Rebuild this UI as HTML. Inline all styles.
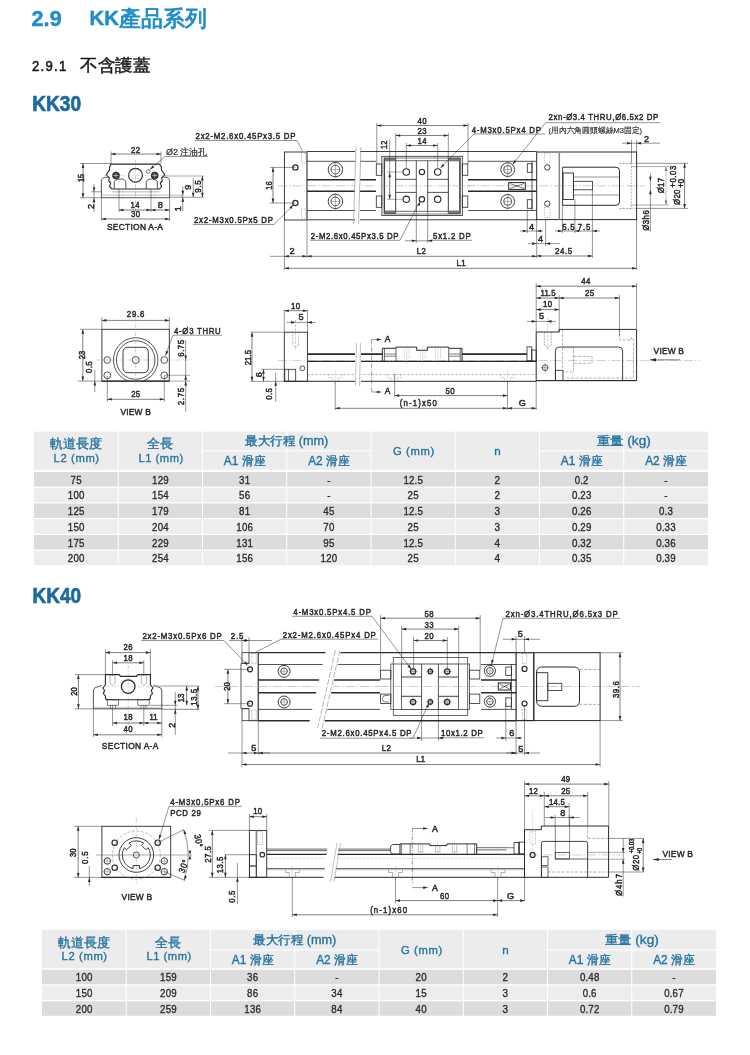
<!DOCTYPE html>
<html><head><meta charset="utf-8"><style>
html,body{margin:0;padding:0;background:#fff;}
body{width:750px;height:1055px;overflow:hidden;}
svg{display:block;will-change:transform;font-family:"Liberation Sans", sans-serif;}
</style></head><body>
<svg width="750" height="1055" viewBox="0 0 750 1055">
<text x="0" y="0" font-size="22.3" text-anchor="start" fill="#1f8dcb" font-weight="bold" stroke="#1f8dcb" stroke-width="0.5" letter-spacing="0.069" transform="translate(31.5 26) scale(0.9700 1)">2.9</text>
<text x="0" y="0" font-size="20.6" text-anchor="start" fill="#1f8dcb" font-weight="bold" stroke="#1f8dcb" stroke-width="0.5" transform="translate(89.5 25.1) scale(0.9847 1)">KK</text>
<text x="119.2" y="25.6" font-size="21.6" text-anchor="start" fill="#1f8dcb" stroke="#1f8dcb" stroke-width="0.9" textLength="87.5" lengthAdjust="spacingAndGlyphs">產品系列</text>
<text x="0" y="0" font-size="15.4" text-anchor="start" fill="#1a1a1a" stroke="#1a1a1a" stroke-width="0.6" letter-spacing="1.497" transform="translate(32 70.8) scale(0.8500 1)">2.9.1</text>
<text x="80.3" y="71" font-size="17.2" text-anchor="start" fill="#1a1a1a" stroke="#1a1a1a" stroke-width="0.45" textLength="70.2" lengthAdjust="spacingAndGlyphs">不含護蓋</text>
<text x="0" y="0" font-size="21.6" text-anchor="start" fill="#1b6aa0" font-weight="bold" stroke="#1b6aa0" stroke-width="0.7" transform="translate(32.2 111.3) scale(0.8855 1)">KK30</text>
<text x="0" y="0" font-size="21.6" text-anchor="start" fill="#1b6aa0" font-weight="bold" stroke="#1b6aa0" stroke-width="0.7" transform="translate(32.4 602.9) scale(0.8819 1)">KK40</text>
<rect x="34" y="431.7" width="674" height="38.1" fill="#ececec"/>
<rect x="34" y="472" width="674" height="14.5" fill="#dcdcdc"/>
<rect x="34" y="487.75" width="674" height="14.5" fill="#ededed"/>
<rect x="34" y="503.5" width="674" height="14.5" fill="#dcdcdc"/>
<rect x="34" y="519.25" width="674" height="14.5" fill="#ededed"/>
<rect x="34" y="535" width="674" height="14.5" fill="#dcdcdc"/>
<rect x="34" y="550.75" width="674" height="14.5" fill="#ededed"/>
<rect x="117.75" y="431.7" width="1" height="134.8" fill="#ffffff"/>
<rect x="202" y="431.7" width="1" height="134.8" fill="#ffffff"/>
<rect x="286.25" y="431.7" width="1" height="134.8" fill="#ffffff"/>
<rect x="370.5" y="431.7" width="1" height="134.8" fill="#ffffff"/>
<rect x="454.75" y="431.7" width="1" height="134.8" fill="#ffffff"/>
<rect x="539" y="431.7" width="1" height="134.8" fill="#ffffff"/>
<rect x="623.25" y="431.7" width="1" height="134.8" fill="#ffffff"/>
<rect x="202.5" y="450.3" width="168.5" height="1" fill="#ffffff"/>
<rect x="539.5" y="450.3" width="168.5" height="1" fill="#ffffff"/>
<text x="76.12" y="448.15" font-size="12.5" text-anchor="middle" fill="#24739f" stroke="#24739f" stroke-width="0.35">軌道長度</text>
<text x="0.32" y="0" font-size="11.6" text-anchor="middle" fill="#24739f" stroke="#24739f" stroke-width="0.35" letter-spacing="0.639" transform="translate(76.33 461.75) scale(0.9700 1)">L2 (mm)</text>
<text x="160.38" y="448.15" font-size="12.5" text-anchor="middle" fill="#24739f" stroke="#24739f" stroke-width="0.35">全長</text>
<text x="0.25" y="0" font-size="11.6" text-anchor="middle" fill="#24739f" stroke="#24739f" stroke-width="0.35" letter-spacing="0.502" transform="translate(160.88 461.75) scale(0.9700 1)">L1 (mm)</text>
<text x="286.75" y="445.2" font-size="12.2" text-anchor="middle" fill="#24739f" stroke="#24739f" stroke-width="0.35" textLength="83" lengthAdjust="spacingAndGlyphs">最大行程 (mm)</text>
<text x="623.75" y="445.2" font-size="12.2" text-anchor="middle" fill="#24739f" stroke="#24739f" stroke-width="0.35" textLength="54" lengthAdjust="spacingAndGlyphs">重量 (kg)</text>
<text x="244.62" y="465.3" font-size="12" text-anchor="middle" fill="#24739f" stroke="#24739f" stroke-width="0.35" textLength="41.5" lengthAdjust="spacingAndGlyphs">A1 滑座</text>
<text x="328.88" y="465.3" font-size="12" text-anchor="middle" fill="#24739f" stroke="#24739f" stroke-width="0.35" textLength="41.5" lengthAdjust="spacingAndGlyphs">A2 滑座</text>
<text x="581.62" y="465.3" font-size="12" text-anchor="middle" fill="#24739f" stroke="#24739f" stroke-width="0.35" textLength="41.5" lengthAdjust="spacingAndGlyphs">A1 滑座</text>
<text x="665.88" y="465.3" font-size="12" text-anchor="middle" fill="#24739f" stroke="#24739f" stroke-width="0.35" textLength="41.5" lengthAdjust="spacingAndGlyphs">A2 滑座</text>
<text x="0.35" y="0" font-size="11.6" text-anchor="middle" fill="#24739f" stroke="#24739f" stroke-width="0.35" letter-spacing="0.698" transform="translate(413.62 455.25) scale(0.9700 1)">G (mm)</text>
<text x="497.38" y="455.25" font-size="11.6" text-anchor="middle" fill="#24739f" stroke="#24739f" stroke-width="0.35">n</text>
<text x="0.15" y="0" font-size="11.3" text-anchor="middle" fill="#2b2b2b" stroke="#2b2b2b" stroke-width="0.35" letter-spacing="0.292" transform="translate(76.12 483.6) scale(0.8600 1)">75</text>
<text x="0.11" y="0" font-size="11.3" text-anchor="middle" fill="#2b2b2b" stroke="#2b2b2b" stroke-width="0.35" letter-spacing="0.219" transform="translate(160.38 483.6) scale(0.8600 1)">129</text>
<text x="0.15" y="0" font-size="11.3" text-anchor="middle" fill="#2b2b2b" stroke="#2b2b2b" stroke-width="0.35" letter-spacing="0.292" transform="translate(244.62 483.6) scale(0.8600 1)">31</text>
<text x="0" y="0" font-size="11.3" text-anchor="middle" fill="#2b2b2b" stroke="#2b2b2b" stroke-width="0.35" transform="translate(328.88 483.6) scale(0.8800 1)">-</text>
<text x="0.09" y="0" font-size="11.3" text-anchor="middle" fill="#2b2b2b" stroke="#2b2b2b" stroke-width="0.35" letter-spacing="0.170" transform="translate(413.12 483.6) scale(0.8600 1)">12.5</text>
<text x="0" y="0" font-size="11.3" text-anchor="middle" fill="#2b2b2b" stroke="#2b2b2b" stroke-width="0.35" transform="translate(497.38 483.6) scale(0.8800 1)">2</text>
<text x="0.09" y="0" font-size="11.3" text-anchor="middle" fill="#2b2b2b" stroke="#2b2b2b" stroke-width="0.35" letter-spacing="0.183" transform="translate(581.62 483.6) scale(0.8600 1)">0.2</text>
<text x="0" y="0" font-size="11.3" text-anchor="middle" fill="#2b2b2b" stroke="#2b2b2b" stroke-width="0.35" transform="translate(665.88 483.6) scale(0.8800 1)">-</text>
<text x="0.11" y="0" font-size="11.3" text-anchor="middle" fill="#2b2b2b" stroke="#2b2b2b" stroke-width="0.35" letter-spacing="0.219" transform="translate(76.12 499.35) scale(0.8600 1)">100</text>
<text x="0.11" y="0" font-size="11.3" text-anchor="middle" fill="#2b2b2b" stroke="#2b2b2b" stroke-width="0.35" letter-spacing="0.219" transform="translate(160.38 499.35) scale(0.8600 1)">154</text>
<text x="0.15" y="0" font-size="11.3" text-anchor="middle" fill="#2b2b2b" stroke="#2b2b2b" stroke-width="0.35" letter-spacing="0.292" transform="translate(244.62 499.35) scale(0.8600 1)">56</text>
<text x="0" y="0" font-size="11.3" text-anchor="middle" fill="#2b2b2b" stroke="#2b2b2b" stroke-width="0.35" transform="translate(328.88 499.35) scale(0.8800 1)">-</text>
<text x="0.15" y="0" font-size="11.3" text-anchor="middle" fill="#2b2b2b" stroke="#2b2b2b" stroke-width="0.35" letter-spacing="0.292" transform="translate(413.12 499.35) scale(0.8600 1)">25</text>
<text x="0" y="0" font-size="11.3" text-anchor="middle" fill="#2b2b2b" stroke="#2b2b2b" stroke-width="0.35" transform="translate(497.38 499.35) scale(0.8800 1)">2</text>
<text x="0.09" y="0" font-size="11.3" text-anchor="middle" fill="#2b2b2b" stroke="#2b2b2b" stroke-width="0.35" letter-spacing="0.170" transform="translate(581.62 499.35) scale(0.8600 1)">0.23</text>
<text x="0" y="0" font-size="11.3" text-anchor="middle" fill="#2b2b2b" stroke="#2b2b2b" stroke-width="0.35" transform="translate(665.88 499.35) scale(0.8800 1)">-</text>
<text x="0.11" y="0" font-size="11.3" text-anchor="middle" fill="#2b2b2b" stroke="#2b2b2b" stroke-width="0.35" letter-spacing="0.219" transform="translate(76.12 515.1) scale(0.8600 1)">125</text>
<text x="0.11" y="0" font-size="11.3" text-anchor="middle" fill="#2b2b2b" stroke="#2b2b2b" stroke-width="0.35" letter-spacing="0.219" transform="translate(160.38 515.1) scale(0.8600 1)">179</text>
<text x="0.15" y="0" font-size="11.3" text-anchor="middle" fill="#2b2b2b" stroke="#2b2b2b" stroke-width="0.35" letter-spacing="0.292" transform="translate(244.62 515.1) scale(0.8600 1)">81</text>
<text x="0.15" y="0" font-size="11.3" text-anchor="middle" fill="#2b2b2b" stroke="#2b2b2b" stroke-width="0.35" letter-spacing="0.292" transform="translate(328.88 515.1) scale(0.8600 1)">45</text>
<text x="0.09" y="0" font-size="11.3" text-anchor="middle" fill="#2b2b2b" stroke="#2b2b2b" stroke-width="0.35" letter-spacing="0.170" transform="translate(413.12 515.1) scale(0.8600 1)">12.5</text>
<text x="0" y="0" font-size="11.3" text-anchor="middle" fill="#2b2b2b" stroke="#2b2b2b" stroke-width="0.35" transform="translate(497.38 515.1) scale(0.8800 1)">3</text>
<text x="0.09" y="0" font-size="11.3" text-anchor="middle" fill="#2b2b2b" stroke="#2b2b2b" stroke-width="0.35" letter-spacing="0.170" transform="translate(581.62 515.1) scale(0.8600 1)">0.26</text>
<text x="0.09" y="0" font-size="11.3" text-anchor="middle" fill="#2b2b2b" stroke="#2b2b2b" stroke-width="0.35" letter-spacing="0.183" transform="translate(665.88 515.1) scale(0.8600 1)">0.3</text>
<text x="0.11" y="0" font-size="11.3" text-anchor="middle" fill="#2b2b2b" stroke="#2b2b2b" stroke-width="0.35" letter-spacing="0.219" transform="translate(76.12 530.85) scale(0.8600 1)">150</text>
<text x="0.11" y="0" font-size="11.3" text-anchor="middle" fill="#2b2b2b" stroke="#2b2b2b" stroke-width="0.35" letter-spacing="0.219" transform="translate(160.38 530.85) scale(0.8600 1)">204</text>
<text x="0.11" y="0" font-size="11.3" text-anchor="middle" fill="#2b2b2b" stroke="#2b2b2b" stroke-width="0.35" letter-spacing="0.219" transform="translate(244.62 530.85) scale(0.8600 1)">106</text>
<text x="0.15" y="0" font-size="11.3" text-anchor="middle" fill="#2b2b2b" stroke="#2b2b2b" stroke-width="0.35" letter-spacing="0.292" transform="translate(328.88 530.85) scale(0.8600 1)">70</text>
<text x="0.15" y="0" font-size="11.3" text-anchor="middle" fill="#2b2b2b" stroke="#2b2b2b" stroke-width="0.35" letter-spacing="0.292" transform="translate(413.12 530.85) scale(0.8600 1)">25</text>
<text x="0" y="0" font-size="11.3" text-anchor="middle" fill="#2b2b2b" stroke="#2b2b2b" stroke-width="0.35" transform="translate(497.38 530.85) scale(0.8800 1)">3</text>
<text x="0.09" y="0" font-size="11.3" text-anchor="middle" fill="#2b2b2b" stroke="#2b2b2b" stroke-width="0.35" letter-spacing="0.170" transform="translate(581.62 530.85) scale(0.8600 1)">0.29</text>
<text x="0.09" y="0" font-size="11.3" text-anchor="middle" fill="#2b2b2b" stroke="#2b2b2b" stroke-width="0.35" letter-spacing="0.170" transform="translate(665.88 530.85) scale(0.8600 1)">0.33</text>
<text x="0.11" y="0" font-size="11.3" text-anchor="middle" fill="#2b2b2b" stroke="#2b2b2b" stroke-width="0.35" letter-spacing="0.219" transform="translate(76.12 546.6) scale(0.8600 1)">175</text>
<text x="0.11" y="0" font-size="11.3" text-anchor="middle" fill="#2b2b2b" stroke="#2b2b2b" stroke-width="0.35" letter-spacing="0.219" transform="translate(160.38 546.6) scale(0.8600 1)">229</text>
<text x="0.11" y="0" font-size="11.3" text-anchor="middle" fill="#2b2b2b" stroke="#2b2b2b" stroke-width="0.35" letter-spacing="0.219" transform="translate(244.62 546.6) scale(0.8600 1)">131</text>
<text x="0.15" y="0" font-size="11.3" text-anchor="middle" fill="#2b2b2b" stroke="#2b2b2b" stroke-width="0.35" letter-spacing="0.292" transform="translate(328.88 546.6) scale(0.8600 1)">95</text>
<text x="0.09" y="0" font-size="11.3" text-anchor="middle" fill="#2b2b2b" stroke="#2b2b2b" stroke-width="0.35" letter-spacing="0.170" transform="translate(413.12 546.6) scale(0.8600 1)">12.5</text>
<text x="0" y="0" font-size="11.3" text-anchor="middle" fill="#2b2b2b" stroke="#2b2b2b" stroke-width="0.35" transform="translate(497.38 546.6) scale(0.8800 1)">4</text>
<text x="0.09" y="0" font-size="11.3" text-anchor="middle" fill="#2b2b2b" stroke="#2b2b2b" stroke-width="0.35" letter-spacing="0.170" transform="translate(581.62 546.6) scale(0.8600 1)">0.32</text>
<text x="0.09" y="0" font-size="11.3" text-anchor="middle" fill="#2b2b2b" stroke="#2b2b2b" stroke-width="0.35" letter-spacing="0.170" transform="translate(665.88 546.6) scale(0.8600 1)">0.36</text>
<text x="0.11" y="0" font-size="11.3" text-anchor="middle" fill="#2b2b2b" stroke="#2b2b2b" stroke-width="0.35" letter-spacing="0.219" transform="translate(76.12 562.35) scale(0.8600 1)">200</text>
<text x="0.11" y="0" font-size="11.3" text-anchor="middle" fill="#2b2b2b" stroke="#2b2b2b" stroke-width="0.35" letter-spacing="0.219" transform="translate(160.38 562.35) scale(0.8600 1)">254</text>
<text x="0.11" y="0" font-size="11.3" text-anchor="middle" fill="#2b2b2b" stroke="#2b2b2b" stroke-width="0.35" letter-spacing="0.219" transform="translate(244.62 562.35) scale(0.8600 1)">156</text>
<text x="0.11" y="0" font-size="11.3" text-anchor="middle" fill="#2b2b2b" stroke="#2b2b2b" stroke-width="0.35" letter-spacing="0.219" transform="translate(328.88 562.35) scale(0.8600 1)">120</text>
<text x="0.15" y="0" font-size="11.3" text-anchor="middle" fill="#2b2b2b" stroke="#2b2b2b" stroke-width="0.35" letter-spacing="0.292" transform="translate(413.12 562.35) scale(0.8600 1)">25</text>
<text x="0" y="0" font-size="11.3" text-anchor="middle" fill="#2b2b2b" stroke="#2b2b2b" stroke-width="0.35" transform="translate(497.38 562.35) scale(0.8800 1)">4</text>
<text x="0.09" y="0" font-size="11.3" text-anchor="middle" fill="#2b2b2b" stroke="#2b2b2b" stroke-width="0.35" letter-spacing="0.170" transform="translate(581.62 562.35) scale(0.8600 1)">0.35</text>
<text x="0.09" y="0" font-size="11.3" text-anchor="middle" fill="#2b2b2b" stroke="#2b2b2b" stroke-width="0.35" letter-spacing="0.170" transform="translate(665.88 562.35) scale(0.8600 1)">0.39</text>
<rect x="42" y="930" width="674" height="38.2" fill="#ececec"/>
<rect x="42" y="969.8" width="674" height="14.5" fill="#dcdcdc"/>
<rect x="42" y="985.55" width="674" height="14.5" fill="#ededed"/>
<rect x="42" y="1001.3" width="674" height="14.5" fill="#dcdcdc"/>
<rect x="125.75" y="930" width="1" height="87.05" fill="#ffffff"/>
<rect x="210" y="930" width="1" height="87.05" fill="#ffffff"/>
<rect x="294.25" y="930" width="1" height="87.05" fill="#ffffff"/>
<rect x="378.5" y="930" width="1" height="87.05" fill="#ffffff"/>
<rect x="462.75" y="930" width="1" height="87.05" fill="#ffffff"/>
<rect x="547" y="930" width="1" height="87.05" fill="#ffffff"/>
<rect x="631.25" y="930" width="1" height="87.05" fill="#ffffff"/>
<rect x="210.5" y="949.5" width="168.5" height="1" fill="#ffffff"/>
<rect x="547.5" y="949.5" width="168.5" height="1" fill="#ffffff"/>
<text x="84.12" y="946.5" font-size="12.5" text-anchor="middle" fill="#24739f" stroke="#24739f" stroke-width="0.35">軌道長度</text>
<text x="0.32" y="0" font-size="11.6" text-anchor="middle" fill="#24739f" stroke="#24739f" stroke-width="0.35" letter-spacing="0.639" transform="translate(84.33 960.1) scale(0.9700 1)">L2 (mm)</text>
<text x="168.38" y="946.5" font-size="12.5" text-anchor="middle" fill="#24739f" stroke="#24739f" stroke-width="0.35">全長</text>
<text x="0.25" y="0" font-size="11.6" text-anchor="middle" fill="#24739f" stroke="#24739f" stroke-width="0.35" letter-spacing="0.502" transform="translate(168.88 960.1) scale(0.9700 1)">L1 (mm)</text>
<text x="294.75" y="943.5" font-size="12.2" text-anchor="middle" fill="#24739f" stroke="#24739f" stroke-width="0.35" textLength="83" lengthAdjust="spacingAndGlyphs">最大行程 (mm)</text>
<text x="631.75" y="943.5" font-size="12.2" text-anchor="middle" fill="#24739f" stroke="#24739f" stroke-width="0.35" textLength="54" lengthAdjust="spacingAndGlyphs">重量 (kg)</text>
<text x="252.62" y="963.7" font-size="12" text-anchor="middle" fill="#24739f" stroke="#24739f" stroke-width="0.35" textLength="41.5" lengthAdjust="spacingAndGlyphs">A1 滑座</text>
<text x="336.88" y="963.7" font-size="12" text-anchor="middle" fill="#24739f" stroke="#24739f" stroke-width="0.35" textLength="41.5" lengthAdjust="spacingAndGlyphs">A2 滑座</text>
<text x="589.62" y="963.7" font-size="12" text-anchor="middle" fill="#24739f" stroke="#24739f" stroke-width="0.35" textLength="41.5" lengthAdjust="spacingAndGlyphs">A1 滑座</text>
<text x="673.88" y="963.7" font-size="12" text-anchor="middle" fill="#24739f" stroke="#24739f" stroke-width="0.35" textLength="41.5" lengthAdjust="spacingAndGlyphs">A2 滑座</text>
<text x="0.35" y="0" font-size="11.6" text-anchor="middle" fill="#24739f" stroke="#24739f" stroke-width="0.35" letter-spacing="0.698" transform="translate(421.62 953.6) scale(0.9700 1)">G (mm)</text>
<text x="505.38" y="953.6" font-size="11.6" text-anchor="middle" fill="#24739f" stroke="#24739f" stroke-width="0.35">n</text>
<text x="0.11" y="0" font-size="11.3" text-anchor="middle" fill="#2b2b2b" stroke="#2b2b2b" stroke-width="0.35" letter-spacing="0.219" transform="translate(84.12 981.4) scale(0.8600 1)">100</text>
<text x="0.11" y="0" font-size="11.3" text-anchor="middle" fill="#2b2b2b" stroke="#2b2b2b" stroke-width="0.35" letter-spacing="0.219" transform="translate(168.38 981.4) scale(0.8600 1)">159</text>
<text x="0.15" y="0" font-size="11.3" text-anchor="middle" fill="#2b2b2b" stroke="#2b2b2b" stroke-width="0.35" letter-spacing="0.292" transform="translate(252.62 981.4) scale(0.8600 1)">36</text>
<text x="0" y="0" font-size="11.3" text-anchor="middle" fill="#2b2b2b" stroke="#2b2b2b" stroke-width="0.35" transform="translate(336.88 981.4) scale(0.8800 1)">-</text>
<text x="0.15" y="0" font-size="11.3" text-anchor="middle" fill="#2b2b2b" stroke="#2b2b2b" stroke-width="0.35" letter-spacing="0.292" transform="translate(421.12 981.4) scale(0.8600 1)">20</text>
<text x="0" y="0" font-size="11.3" text-anchor="middle" fill="#2b2b2b" stroke="#2b2b2b" stroke-width="0.35" transform="translate(505.38 981.4) scale(0.8800 1)">2</text>
<text x="0.09" y="0" font-size="11.3" text-anchor="middle" fill="#2b2b2b" stroke="#2b2b2b" stroke-width="0.35" letter-spacing="0.170" transform="translate(589.62 981.4) scale(0.8600 1)">0.48</text>
<text x="0" y="0" font-size="11.3" text-anchor="middle" fill="#2b2b2b" stroke="#2b2b2b" stroke-width="0.35" transform="translate(673.88 981.4) scale(0.8800 1)">-</text>
<text x="0.11" y="0" font-size="11.3" text-anchor="middle" fill="#2b2b2b" stroke="#2b2b2b" stroke-width="0.35" letter-spacing="0.219" transform="translate(84.12 997.15) scale(0.8600 1)">150</text>
<text x="0.11" y="0" font-size="11.3" text-anchor="middle" fill="#2b2b2b" stroke="#2b2b2b" stroke-width="0.35" letter-spacing="0.219" transform="translate(168.38 997.15) scale(0.8600 1)">209</text>
<text x="0.15" y="0" font-size="11.3" text-anchor="middle" fill="#2b2b2b" stroke="#2b2b2b" stroke-width="0.35" letter-spacing="0.292" transform="translate(252.62 997.15) scale(0.8600 1)">86</text>
<text x="0.15" y="0" font-size="11.3" text-anchor="middle" fill="#2b2b2b" stroke="#2b2b2b" stroke-width="0.35" letter-spacing="0.292" transform="translate(336.88 997.15) scale(0.8600 1)">34</text>
<text x="0.15" y="0" font-size="11.3" text-anchor="middle" fill="#2b2b2b" stroke="#2b2b2b" stroke-width="0.35" letter-spacing="0.292" transform="translate(421.12 997.15) scale(0.8600 1)">15</text>
<text x="0" y="0" font-size="11.3" text-anchor="middle" fill="#2b2b2b" stroke="#2b2b2b" stroke-width="0.35" transform="translate(505.38 997.15) scale(0.8800 1)">3</text>
<text x="0.09" y="0" font-size="11.3" text-anchor="middle" fill="#2b2b2b" stroke="#2b2b2b" stroke-width="0.35" letter-spacing="0.183" transform="translate(589.62 997.15) scale(0.8600 1)">0.6</text>
<text x="0.09" y="0" font-size="11.3" text-anchor="middle" fill="#2b2b2b" stroke="#2b2b2b" stroke-width="0.35" letter-spacing="0.170" transform="translate(673.88 997.15) scale(0.8600 1)">0.67</text>
<text x="0.11" y="0" font-size="11.3" text-anchor="middle" fill="#2b2b2b" stroke="#2b2b2b" stroke-width="0.35" letter-spacing="0.219" transform="translate(84.12 1012.9) scale(0.8600 1)">200</text>
<text x="0.11" y="0" font-size="11.3" text-anchor="middle" fill="#2b2b2b" stroke="#2b2b2b" stroke-width="0.35" letter-spacing="0.219" transform="translate(168.38 1012.9) scale(0.8600 1)">259</text>
<text x="0.11" y="0" font-size="11.3" text-anchor="middle" fill="#2b2b2b" stroke="#2b2b2b" stroke-width="0.35" letter-spacing="0.219" transform="translate(252.62 1012.9) scale(0.8600 1)">136</text>
<text x="0.15" y="0" font-size="11.3" text-anchor="middle" fill="#2b2b2b" stroke="#2b2b2b" stroke-width="0.35" letter-spacing="0.292" transform="translate(336.88 1012.9) scale(0.8600 1)">84</text>
<text x="0.15" y="0" font-size="11.3" text-anchor="middle" fill="#2b2b2b" stroke="#2b2b2b" stroke-width="0.35" letter-spacing="0.292" transform="translate(421.12 1012.9) scale(0.8600 1)">40</text>
<text x="0" y="0" font-size="11.3" text-anchor="middle" fill="#2b2b2b" stroke="#2b2b2b" stroke-width="0.35" transform="translate(505.38 1012.9) scale(0.8800 1)">3</text>
<text x="0.09" y="0" font-size="11.3" text-anchor="middle" fill="#2b2b2b" stroke="#2b2b2b" stroke-width="0.35" letter-spacing="0.170" transform="translate(589.62 1012.9) scale(0.8600 1)">0.72</text>
<text x="0.09" y="0" font-size="11.3" text-anchor="middle" fill="#2b2b2b" stroke="#2b2b2b" stroke-width="0.35" letter-spacing="0.170" transform="translate(673.88 1012.9) scale(0.8600 1)">0.79</text>
<line x1="111" y1="151.5" x2="111" y2="164" stroke="#2a2a2a" stroke-width="0.5"/>
<line x1="161" y1="151.5" x2="161" y2="164" stroke="#2a2a2a" stroke-width="0.5"/>
<line x1="111" y1="154" x2="161" y2="154" stroke="#2a2a2a" stroke-width="0.6"/>
<polygon points="111,154 115.5,152.7 115.5,155.3" fill="#2a2a2a"/>
<polygon points="161,154 156.5,155.3 156.5,152.7" fill="#2a2a2a"/>
<text x="0.17" y="0" font-size="9.1" text-anchor="middle" fill="#2a2a2a" stroke="#2a2a2a" stroke-width="0.5" letter-spacing="0.344" transform="translate(135.5 153) scale(0.8600 1)">22</text>
<text x="166" y="155" font-size="9.1" text-anchor="start" fill="#2a2a2a" stroke="#2a2a2a" stroke-width="0.2" textLength="41" lengthAdjust="spacingAndGlyphs">Ø2 注油孔</text>
<line x1="165" y1="156.5" x2="208" y2="156.5" stroke="#2a2a2a" stroke-width="0.5"/>
<line x1="165" y1="156.5" x2="150" y2="169.5" stroke="#2a2a2a" stroke-width="0.5"/>
<polygon points="150,169.5 152.48,165.52 154.21,167.46" fill="#2a2a2a"/>
<line x1="80" y1="163.5" x2="111" y2="163.5" stroke="#2a2a2a" stroke-width="0.5"/>
<line x1="80" y1="197.7" x2="101.4" y2="197.7" stroke="#2a2a2a" stroke-width="0.5"/>
<line x1="83" y1="163.5" x2="83" y2="197.7" stroke="#2a2a2a" stroke-width="0.6"/>
<polygon points="83,163.5 84.3,168 81.7,168" fill="#2a2a2a"/>
<polygon points="83,197.7 81.7,193.2 84.3,193.2" fill="#2a2a2a"/>
<text x="0" y="0" font-size="9.1" text-anchor="middle" fill="#2a2a2a" stroke="#2a2a2a" stroke-width="0.5" transform="translate(84 178) rotate(-90) scale(0.7904 1)">15</text>
<line x1="91" y1="191.8" x2="101.4" y2="191.8" stroke="#2a2a2a" stroke-width="0.5"/>
<line x1="94" y1="184" x2="94" y2="212" stroke="#2a2a2a" stroke-width="0.5"/>
<polygon points="94,191.8 92.7,187.3 95.3,187.3" fill="#2a2a2a"/>
<polygon points="94,197.7 95.3,202.2 92.7,202.2" fill="#2a2a2a"/>
<text x="0" y="0" font-size="9.1" text-anchor="middle" fill="#2a2a2a" stroke="#2a2a2a" stroke-width="0.5" transform="translate(93.6 206.5) rotate(-90) scale(1.0000 1)">2</text>
<path d="M111,164.1 L159.5,164.1 L161.2,166.5 L161.5,170 L164.8,174.7 L161.6,178 L162.3,181 L160.3,183 L161.5,186.5 L159.5,189 L112,189 L109.5,186.5 L110.7,183 L108.7,181 L109.4,178 L106.2,174.7 L109.5,170 L109.8,166.5 Z" stroke="#2a2a2a" stroke-width="1.1" fill="none"/>
<path d="M101.4,197.7 L101.4,181.5 Q101.4,177.3 105.7,177.3 L107.5,177.3" stroke="#2a2a2a" stroke-width="0.8" fill="none"/>
<path d="M169.6,197.7 L169.6,181.5 Q169.6,177.3 165.3,177.3 L163.5,177.3" stroke="#2a2a2a" stroke-width="0.8" fill="none"/>
<line x1="101.4" y1="197.7" x2="169.6" y2="197.7" stroke="#2a2a2a" stroke-width="0.8"/>
<line x1="112" y1="191.8" x2="159.5" y2="191.8" stroke="#777" stroke-width="0.5"/>
<line x1="101.4" y1="195.2" x2="183" y2="195.2" stroke="#777" stroke-width="0.5"/>
<line x1="165" y1="176" x2="204" y2="176" stroke="#aaa" stroke-width="1.2"/>
<line x1="169.6" y1="197.2" x2="204" y2="197.2" stroke="#2a2a2a" stroke-width="0.5"/>
<path d="M114.2,189 L114.2,183 Q114.2,179 120,179 Q125.9,179 125.9,183 L125.9,189" stroke="#2a2a2a" stroke-width="0.8" fill="none"/>
<path d="M146.2,189 L146.2,183 Q146.2,179 151.8,179 Q157.4,179 157.4,183 L157.4,189" stroke="#2a2a2a" stroke-width="0.8" fill="none"/>
<line x1="117" y1="189" x2="117" y2="197" stroke="#999" stroke-width="0.4" stroke-dasharray="1.5,1"/>
<line x1="123" y1="189" x2="123" y2="197" stroke="#999" stroke-width="0.4" stroke-dasharray="1.5,1"/>
<line x1="149" y1="189" x2="149" y2="197" stroke="#999" stroke-width="0.4" stroke-dasharray="1.5,1"/>
<line x1="155" y1="189" x2="155" y2="197" stroke="#999" stroke-width="0.4" stroke-dasharray="1.5,1"/>
<circle cx="135.5" cy="175.3" r="6.9" stroke="#2a2a2a" stroke-width="1.2" fill="none"/>
<circle cx="116" cy="175.5" r="3.5" stroke="#2a2a2a" stroke-width="0.8" fill="#3a3a3a"/>
<circle cx="154.7" cy="175.5" r="3.5" stroke="#2a2a2a" stroke-width="0.8" fill="#3a3a3a"/>
<line x1="113.8" y1="175.5" x2="118.2" y2="175.5" stroke="#ddd" stroke-width="0.6"/>
<line x1="116" y1="173.3" x2="116" y2="177.7" stroke="#ddd" stroke-width="0.6"/>
<line x1="152.5" y1="175.5" x2="156.9" y2="175.5" stroke="#ddd" stroke-width="0.6"/>
<line x1="154.7" y1="173.3" x2="154.7" y2="177.7" stroke="#ddd" stroke-width="0.6"/>
<circle cx="148.3" cy="171.5" r="1.9" stroke="#2a2a2a" stroke-width="0.6" fill="none"/>
<line x1="135.5" y1="160" x2="135.5" y2="214" stroke="#888" stroke-width="0.4" stroke-dasharray="4,1.5,1,1.5"/>
<line x1="104" y1="175.3" x2="167" y2="175.3" stroke="#aaa" stroke-width="0.4" stroke-dasharray="4,1.5,1,1.5"/>
<line x1="119" y1="189" x2="119" y2="212" stroke="#2a2a2a" stroke-width="0.5"/>
<line x1="151" y1="189" x2="151" y2="212" stroke="#2a2a2a" stroke-width="0.5"/>
<line x1="169.6" y1="197.7" x2="169.6" y2="221" stroke="#2a2a2a" stroke-width="0.5"/>
<line x1="101.4" y1="197.7" x2="101.4" y2="221" stroke="#2a2a2a" stroke-width="0.5"/>
<line x1="119" y1="210" x2="151" y2="210" stroke="#2a2a2a" stroke-width="0.6"/>
<polygon points="119,210 123.5,208.7 123.5,211.3" fill="#2a2a2a"/>
<polygon points="151,210 146.5,211.3 146.5,208.7" fill="#2a2a2a"/>
<line x1="151" y1="210" x2="169.6" y2="210" stroke="#2a2a2a" stroke-width="0.6"/>
<polygon points="151,210 155.5,208.7 155.5,211.3" fill="#2a2a2a"/>
<polygon points="169.6,210 165.1,211.3 165.1,208.7" fill="#2a2a2a"/>
<text x="0.17" y="0" font-size="9.1" text-anchor="middle" fill="#2a2a2a" stroke="#2a2a2a" stroke-width="0.5" letter-spacing="0.344" transform="translate(135 208) scale(0.8600 1)">14</text>
<text x="160.3" y="208" font-size="9.1" text-anchor="middle" fill="#2a2a2a" stroke="#2a2a2a" stroke-width="0.5">8</text>
<line x1="101.4" y1="219" x2="169.6" y2="219" stroke="#2a2a2a" stroke-width="0.6"/>
<polygon points="101.4,219 105.9,217.7 105.9,220.3" fill="#2a2a2a"/>
<polygon points="169.6,219 165.1,220.3 165.1,217.7" fill="#2a2a2a"/>
<text x="0.17" y="0" font-size="9.1" text-anchor="middle" fill="#2a2a2a" stroke="#2a2a2a" stroke-width="0.5" letter-spacing="0.344" transform="translate(135.5 217) scale(0.8600 1)">30</text>
<text x="0" y="0" font-size="9.8" text-anchor="start" fill="#2a2a2a" stroke="#2a2a2a" stroke-width="0.5" letter-spacing="0.304" transform="translate(107 230) scale(0.8600 1)">SECTION A-A</text>
<line x1="202.4" y1="176" x2="202.4" y2="197.2" stroke="#2a2a2a" stroke-width="0.6"/>
<polygon points="202.4,176 203.7,180.5 201.1,180.5" fill="#2a2a2a"/>
<polygon points="202.4,197.2 201.1,192.7 203.7,192.7" fill="#2a2a2a"/>
<text x="0.44" y="0" font-size="9.1" text-anchor="middle" fill="#2a2a2a" stroke="#2a2a2a" stroke-width="0.5" letter-spacing="0.885" transform="translate(200.8 186.5) rotate(-90) scale(0.8600 1)">9.5</text>
<line x1="193.2" y1="178" x2="193.2" y2="197.2" stroke="#2a2a2a" stroke-width="0.5"/>
<polygon points="193.2,197.2 191.9,192.7 194.5,192.7" fill="#2a2a2a"/>
<text x="0" y="0" font-size="9.1" text-anchor="middle" fill="#2a2a2a" stroke="#2a2a2a" stroke-width="0.5" transform="translate(191.2 187.2) rotate(-90) scale(1.0000 1)">9</text>
<line x1="182.8" y1="186.4" x2="182.8" y2="211.2" stroke="#2a2a2a" stroke-width="0.5"/>
<polygon points="182.8,195.2 181.5,190.7 184.1,190.7" fill="#2a2a2a"/>
<polygon points="182.8,197.2 184.1,201.7 181.5,201.7" fill="#2a2a2a"/>
<text x="0" y="0" font-size="9.1" text-anchor="middle" fill="#2a2a2a" stroke="#2a2a2a" stroke-width="0.5" transform="translate(180.8 208.6) rotate(-90) scale(1.0000 1)">1</text>
<text x="0" y="0" font-size="9.1" text-anchor="start" fill="#2a2a2a" stroke="#2a2a2a" stroke-width="0.5" letter-spacing="0.883" transform="translate(195.6 139) scale(0.8600 1)">2x2-M2.6x0.45Px3.5 DP</text>
<line x1="195" y1="140.5" x2="297" y2="140.5" stroke="#2a2a2a" stroke-width="0.5"/>
<line x1="297" y1="140.5" x2="302.5" y2="151" stroke="#2a2a2a" stroke-width="0.5"/>
<text x="0" y="0" font-size="9.1" text-anchor="start" fill="#2a2a2a" stroke="#2a2a2a" stroke-width="0.5" letter-spacing="0.898" transform="translate(194 223) scale(0.8600 1)">2x2-M3x0.5Px5 DP</text>
<line x1="193" y1="224.5" x2="274" y2="224.5" stroke="#2a2a2a" stroke-width="0.5"/>
<line x1="274" y1="224.5" x2="293.5" y2="205" stroke="#2a2a2a" stroke-width="0.5"/>
<polygon points="293.5,205 291.24,209.1 289.4,207.26" fill="#2a2a2a"/>
<line x1="270" y1="167.4" x2="295.4" y2="167.4" stroke="#2a2a2a" stroke-width="0.5"/>
<line x1="270" y1="203" x2="295.4" y2="203" stroke="#2a2a2a" stroke-width="0.5"/>
<line x1="273" y1="167.4" x2="273" y2="203" stroke="#2a2a2a" stroke-width="0.6"/>
<polygon points="273,167.4 274.3,171.9 271.7,171.9" fill="#2a2a2a"/>
<polygon points="273,203 271.7,198.5 274.3,198.5" fill="#2a2a2a"/>
<text x="0" y="0" font-size="9.1" text-anchor="middle" fill="#2a2a2a" stroke="#2a2a2a" stroke-width="0.5" transform="translate(271.6 185.5) rotate(-90) scale(0.8398 1)">16</text>
<rect x="284.4" y="152" width="22.6" height="68" stroke="#2a2a2a" stroke-width="0.9" fill="none"/>
<rect x="301.5" y="153" width="4.5" height="10" stroke="#777" stroke-width="0.4" fill="none" stroke-dasharray="1.5,1"/>
<rect x="301.5" y="209" width="4.5" height="10" stroke="#777" stroke-width="0.4" fill="none" stroke-dasharray="1.5,1"/>
<circle cx="295.4" cy="167.4" r="2.6" stroke="#2a2a2a" stroke-width="1.2" fill="none"/>
<circle cx="295.4" cy="203" r="2.6" stroke="#2a2a2a" stroke-width="1.2" fill="none"/>
<line x1="307" y1="152" x2="307" y2="220" stroke="#888" stroke-width="1.6"/>
<line x1="307" y1="151.5" x2="536.7" y2="151.5" stroke="#2a2a2a" stroke-width="0.9"/>
<line x1="307" y1="161.3" x2="536.7" y2="161.3" stroke="#2a2a2a" stroke-width="0.8"/>
<line x1="307" y1="179.8" x2="536.7" y2="179.8" stroke="#2a2a2a" stroke-width="1.4"/>
<line x1="307" y1="191.3" x2="536.7" y2="191.3" stroke="#2a2a2a" stroke-width="1.4"/>
<line x1="307" y1="210.5" x2="536.7" y2="210.5" stroke="#2a2a2a" stroke-width="0.8"/>
<line x1="307" y1="219.8" x2="536.7" y2="219.8" stroke="#2a2a2a" stroke-width="0.9"/>
<line x1="278" y1="185.8" x2="645" y2="185.8" stroke="#999" stroke-width="0.5" stroke-dasharray="9,2,1.5,2"/>
<circle cx="335.4" cy="169.6" r="7.2" stroke="#2a2a2a" stroke-width="0.9" fill="none"/>
<circle cx="335.4" cy="169.6" r="4.4" stroke="#2a2a2a" stroke-width="0.8" fill="none"/>
<line x1="335.4" y1="161.1" x2="335.4" y2="178.1" stroke="#2a2a2a" stroke-width="0.35"/>
<line x1="331" y1="169.6" x2="339.8" y2="169.6" stroke="#2a2a2a" stroke-width="0.35"/>
<circle cx="507.7" cy="169.6" r="6.9" stroke="#2a2a2a" stroke-width="0.9" fill="none"/>
<circle cx="507.7" cy="169.6" r="4" stroke="#2a2a2a" stroke-width="0.8" fill="none"/>
<line x1="507.7" y1="161.4" x2="507.7" y2="177.8" stroke="#2a2a2a" stroke-width="0.35"/>
<line x1="503.7" y1="169.6" x2="511.7" y2="169.6" stroke="#2a2a2a" stroke-width="0.35"/>
<circle cx="335.4" cy="201.4" r="7.2" stroke="#2a2a2a" stroke-width="0.9" fill="none"/>
<circle cx="335.4" cy="201.4" r="4.4" stroke="#2a2a2a" stroke-width="0.8" fill="none"/>
<line x1="335.4" y1="192.9" x2="335.4" y2="209.9" stroke="#2a2a2a" stroke-width="0.35"/>
<line x1="331" y1="201.4" x2="339.8" y2="201.4" stroke="#2a2a2a" stroke-width="0.35"/>
<circle cx="507.7" cy="201.4" r="6.9" stroke="#2a2a2a" stroke-width="0.9" fill="none"/>
<circle cx="507.7" cy="201.4" r="4" stroke="#2a2a2a" stroke-width="0.8" fill="none"/>
<line x1="507.7" y1="193.2" x2="507.7" y2="209.6" stroke="#2a2a2a" stroke-width="0.35"/>
<line x1="503.7" y1="201.4" x2="511.7" y2="201.4" stroke="#2a2a2a" stroke-width="0.35"/>
<rect x="355" y="145" width="5" height="80" fill="#ffffff"/>
<line x1="356" y1="147" x2="353.5" y2="224" stroke="#999" stroke-width="0.7"/>
<line x1="361" y1="147" x2="358.5" y2="224" stroke="#999" stroke-width="0.7"/>
<rect x="376" y="156" width="92" height="60" fill="#ffffff"/>
<rect x="381.9" y="156.3" width="80.4" height="59.3" stroke="#2a2a2a" stroke-width="0.8" fill="none"/>
<rect x="384" y="158" width="76.3" height="56" stroke="#2a2a2a" stroke-width="0.6" fill="none"/>
<rect x="384.6" y="158.3" width="11.1" height="55" stroke="#2a2a2a" stroke-width="0.9" fill="none"/>
<rect x="384.6" y="158.3" width="11.1" height="3" fill="#777"/>
<rect x="384.6" y="210.5" width="11.1" height="2.8" fill="#777"/>
<rect x="448.3" y="158.3" width="11.4" height="55" stroke="#2a2a2a" stroke-width="0.9" fill="none"/>
<rect x="448.3" y="158.3" width="11.4" height="3" fill="#777"/>
<rect x="448.3" y="210.5" width="11.4" height="2.8" fill="#777"/>
<line x1="395.7" y1="160.7" x2="448.3" y2="160.7" stroke="#2a2a2a" stroke-width="0.7"/>
<line x1="395.7" y1="211.3" x2="448.3" y2="211.3" stroke="#2a2a2a" stroke-width="0.7"/>
<line x1="416.3" y1="160.7" x2="416.3" y2="211.3" stroke="#2a2a2a" stroke-width="0.8"/>
<line x1="427.7" y1="160.7" x2="427.7" y2="211.3" stroke="#2a2a2a" stroke-width="0.8"/>
<line x1="395.7" y1="179.3" x2="416.3" y2="179.3" stroke="#2a2a2a" stroke-width="0.8"/>
<line x1="395.7" y1="192.4" x2="416.3" y2="192.4" stroke="#2a2a2a" stroke-width="0.8"/>
<line x1="427.7" y1="179.3" x2="448.3" y2="179.3" stroke="#2a2a2a" stroke-width="0.8"/>
<line x1="427.7" y1="192.4" x2="448.3" y2="192.4" stroke="#2a2a2a" stroke-width="0.8"/>
<circle cx="406.3" cy="172" r="3.2" stroke="#2a2a2a" stroke-width="1.1" fill="none"/>
<circle cx="421.9" cy="172" r="2.7" stroke="#2a2a2a" stroke-width="1.1" fill="none"/>
<circle cx="437.7" cy="172" r="3.2" stroke="#2a2a2a" stroke-width="1.1" fill="none"/>
<circle cx="406.3" cy="199.3" r="3.2" stroke="#2a2a2a" stroke-width="1.1" fill="none"/>
<circle cx="421.9" cy="199.3" r="2.7" stroke="#2a2a2a" stroke-width="1.1" fill="none"/>
<circle cx="437.7" cy="199.3" r="3.2" stroke="#2a2a2a" stroke-width="1.1" fill="none"/>
<rect x="376.3" y="164" width="5.5" height="11.3" stroke="#2a2a2a" stroke-width="0.8" fill="none"/>
<rect x="376.3" y="196" width="5.5" height="11.3" stroke="#2a2a2a" stroke-width="0.8" fill="none"/>
<rect x="462.3" y="164" width="5.5" height="11.3" stroke="#2a2a2a" stroke-width="0.8" fill="none"/>
<rect x="462.3" y="196" width="5.5" height="11.3" stroke="#2a2a2a" stroke-width="0.8" fill="none"/>
<line x1="380" y1="185.8" x2="470" y2="185.8" stroke="#999" stroke-width="0.5" stroke-dasharray="9,2,1.5,2"/>
<line x1="387" y1="172" x2="403" y2="172" stroke="#2a2a2a" stroke-width="0.4"/>
<line x1="387" y1="199.3" x2="403" y2="199.3" stroke="#2a2a2a" stroke-width="0.4"/>
<line x1="389.7" y1="172.7" x2="389.7" y2="199.3" stroke="#2a2a2a" stroke-width="0.6"/>
<polygon points="389.7,172.7 391,177.2 388.4,177.2" fill="#2a2a2a"/>
<polygon points="389.7,199.3 388.4,194.8 391,194.8" fill="#2a2a2a"/>
<line x1="376.8" y1="123" x2="376.8" y2="164" stroke="#2a2a2a" stroke-width="0.5"/>
<line x1="468" y1="123" x2="468" y2="164" stroke="#2a2a2a" stroke-width="0.5"/>
<line x1="376.8" y1="125.5" x2="468" y2="125.5" stroke="#2a2a2a" stroke-width="0.6"/>
<polygon points="376.8,125.5 381.3,124.2 381.3,126.8" fill="#2a2a2a"/>
<polygon points="468,125.5 463.5,126.8 463.5,124.2" fill="#2a2a2a"/>
<text x="0.17" y="0" font-size="9.1" text-anchor="middle" fill="#2a2a2a" stroke="#2a2a2a" stroke-width="0.5" letter-spacing="0.344" transform="translate(422 124) scale(0.8600 1)">40</text>
<line x1="395.7" y1="133" x2="395.7" y2="158" stroke="#2a2a2a" stroke-width="0.5"/>
<line x1="448.3" y1="133" x2="448.3" y2="158" stroke="#2a2a2a" stroke-width="0.5"/>
<line x1="395.7" y1="135.5" x2="448.3" y2="135.5" stroke="#2a2a2a" stroke-width="0.6"/>
<polygon points="395.7,135.5 400.2,134.2 400.2,136.8" fill="#2a2a2a"/>
<polygon points="448.3,135.5 443.8,136.8 443.8,134.2" fill="#2a2a2a"/>
<text x="0.17" y="0" font-size="9.1" text-anchor="middle" fill="#2a2a2a" stroke="#2a2a2a" stroke-width="0.5" letter-spacing="0.344" transform="translate(422 134) scale(0.8600 1)">23</text>
<line x1="406.3" y1="143" x2="406.3" y2="168" stroke="#2a2a2a" stroke-width="0.5"/>
<line x1="437.7" y1="143" x2="437.7" y2="168" stroke="#2a2a2a" stroke-width="0.5"/>
<line x1="406.3" y1="145.5" x2="437.7" y2="145.5" stroke="#2a2a2a" stroke-width="0.6"/>
<polygon points="406.3,145.5 410.8,144.2 410.8,146.8" fill="#2a2a2a"/>
<polygon points="437.7,145.5 433.2,146.8 433.2,144.2" fill="#2a2a2a"/>
<text x="0.17" y="0" font-size="9.1" text-anchor="middle" fill="#2a2a2a" stroke="#2a2a2a" stroke-width="0.5" letter-spacing="0.344" transform="translate(422 144) scale(0.8600 1)">14</text>
<line x1="389.7" y1="139" x2="389.7" y2="172.7" stroke="#2a2a2a" stroke-width="0.5"/>
<text x="0" y="0" font-size="9.1" text-anchor="middle" fill="#2a2a2a" stroke="#2a2a2a" stroke-width="0.5" transform="translate(387.3 144.7) rotate(-90) scale(0.8398 1)">12</text>
<text x="0" y="0" font-size="9.1" text-anchor="start" fill="#2a2a2a" stroke="#2a2a2a" stroke-width="0.5" letter-spacing="0.908" transform="translate(471.7 132.9) scale(0.8600 1)">4-M3x0.5Px4 DP</text>
<line x1="473.9" y1="134" x2="545" y2="134" stroke="#2a2a2a" stroke-width="0.5"/>
<line x1="473.9" y1="134" x2="440.5" y2="168" stroke="#2a2a2a" stroke-width="0.5"/>
<polygon points="440.5,168 442.76,163.9 444.6,165.74" fill="#2a2a2a"/>
<text x="0" y="0" font-size="9.1" text-anchor="start" fill="#2a2a2a" stroke="#2a2a2a" stroke-width="0.5" letter-spacing="0.718" transform="translate(548.5 120.3) scale(0.8600 1)">2xn-Ø3.4 THRU,Ø6.5x2 DP</text>
<text x="548.5" y="133" font-size="7.6" text-anchor="start" fill="#2a2a2a" stroke="#2a2a2a" stroke-width="0.15" textLength="93.5" lengthAdjust="spacingAndGlyphs">(用內六角圓頭螺絲M3固定)</text>
<line x1="545.7" y1="122.7" x2="660" y2="122.7" stroke="#2a2a2a" stroke-width="0.5"/>
<line x1="545.7" y1="122.7" x2="512.5" y2="164.5" stroke="#2a2a2a" stroke-width="0.5"/>
<polygon points="512.5,164.5 514.3,160.17 516.33,161.8" fill="#2a2a2a"/>
<rect x="508.7" y="182.6" width="16.6" height="6.8" stroke="#2a2a2a" stroke-width="1" fill="none"/>
<line x1="510" y1="183.5" x2="524" y2="188.5" stroke="#2a2a2a" stroke-width="0.6"/>
<line x1="510" y1="188.5" x2="524" y2="183.5" stroke="#2a2a2a" stroke-width="0.6"/>
<rect x="527.3" y="163.7" width="4.7" height="8.6" stroke="#2a2a2a" stroke-width="0.8" fill="none"/>
<rect x="527.3" y="199.7" width="4.7" height="8.6" stroke="#2a2a2a" stroke-width="0.8" fill="none"/>
<line x1="532" y1="161.3" x2="532" y2="210.3" stroke="#2a2a2a" stroke-width="0.8"/>
<rect x="536.7" y="152" width="99.9" height="67.6" stroke="#2a2a2a" stroke-width="1" fill="none"/>
<line x1="559.3" y1="152" x2="559.3" y2="219.6" stroke="#888" stroke-width="1.5"/>
<rect x="544.5" y="153" width="5.5" height="10" stroke="#777" stroke-width="0.4" fill="none" stroke-dasharray="1.5,1"/>
<rect x="544.5" y="207.5" width="5.5" height="10" stroke="#777" stroke-width="0.4" fill="none" stroke-dasharray="1.5,1"/>
<circle cx="547.3" cy="167.4" r="2.7" stroke="#2a2a2a" stroke-width="0.9" fill="none"/>
<circle cx="547.3" cy="203.7" r="2.7" stroke="#2a2a2a" stroke-width="0.9" fill="none"/>
<path d="M562.6,167.2 L616,167.2 Q619.5,167.2 619.5,170.7 L619.5,201.8 Q619.5,205.3 616,205.3 L562.6,205.3" stroke="#2a2a2a" stroke-width="1" fill="none"/>
<line x1="562.6" y1="167.2" x2="562.6" y2="205.3" stroke="#2a2a2a" stroke-width="0.9"/>
<rect x="563" y="173" width="10.5" height="26.5" stroke="#2a2a2a" stroke-width="0.9" fill="none"/>
<rect x="573.5" y="181.3" width="19" height="8.5" stroke="#2a2a2a" stroke-width="0.8" fill="none"/>
<line x1="573.5" y1="177" x2="619.5" y2="177" stroke="#2a2a2a" stroke-width="0.5"/>
<line x1="573.5" y1="195" x2="619.5" y2="195" stroke="#2a2a2a" stroke-width="0.5"/>
<rect x="631.3" y="163.3" width="5.3" height="45.1" stroke="#777" stroke-width="0.5" fill="none" stroke-dasharray="2,1.2"/>
<line x1="619.5" y1="163.3" x2="631.3" y2="163.3" stroke="#2a2a2a" stroke-width="0.5" stroke-dasharray="2,1.2"/>
<line x1="619.5" y1="208.4" x2="631.3" y2="208.4" stroke="#2a2a2a" stroke-width="0.5" stroke-dasharray="2,1.2"/>
<line x1="631.5" y1="140" x2="631.5" y2="163" stroke="#2a2a2a" stroke-width="0.5"/>
<line x1="636.6" y1="140" x2="636.6" y2="152" stroke="#2a2a2a" stroke-width="0.5"/>
<line x1="622" y1="143.2" x2="660" y2="143.2" stroke="#2a2a2a" stroke-width="0.5"/>
<polygon points="631.5,143.2 627,144.5 627,141.9" fill="#2a2a2a"/>
<polygon points="636.6,143.2 641.1,141.9 641.1,144.5" fill="#2a2a2a"/>
<text x="646.5" y="141.5" font-size="9.1" text-anchor="middle" fill="#2a2a2a" stroke="#2a2a2a" stroke-width="0.5">2</text>
<line x1="636.6" y1="163.3" x2="688" y2="163.3" stroke="#2a2a2a" stroke-width="0.5"/>
<line x1="636.6" y1="208.4" x2="688" y2="208.4" stroke="#2a2a2a" stroke-width="0.5"/>
<line x1="684.6" y1="163.3" x2="684.6" y2="208.4" stroke="#2a2a2a" stroke-width="0.6"/>
<polygon points="684.6,163.3 685.9,167.8 683.3,167.8" fill="#2a2a2a"/>
<polygon points="684.6,208.4 683.3,203.9 685.9,203.9" fill="#2a2a2a"/>
<line x1="631" y1="166.6" x2="669" y2="166.6" stroke="#2a2a2a" stroke-width="0.4"/>
<line x1="631" y1="205" x2="669" y2="205" stroke="#2a2a2a" stroke-width="0.4"/>
<line x1="666" y1="166.6" x2="666" y2="205" stroke="#999" stroke-width="0.6"/>
<polygon points="666,166.6 667.3,171.1 664.7,171.1" fill="#777"/>
<polygon points="666,205 664.7,200.5 667.3,200.5" fill="#777"/>
<text x="0.15" y="0" font-size="9.1" text-anchor="middle" fill="#2a2a2a" stroke="#2a2a2a" stroke-width="0.5" letter-spacing="0.296" transform="translate(664 185.6) rotate(-90) scale(0.8600 1)">Ø17</text>
<text x="0.15" y="0" font-size="9.1" text-anchor="middle" fill="#2a2a2a" stroke="#2a2a2a" stroke-width="0.5" letter-spacing="0.296" transform="translate(680 197.3) rotate(-90) scale(0.8600 1)">Ø20</text>
<text x="0.32" y="0" font-size="9.1" text-anchor="middle" fill="#2a2a2a" stroke="#2a2a2a" stroke-width="0.5" letter-spacing="0.639" transform="translate(676 176.7) rotate(-90) scale(0.8600 1)">+0.03</text>
<text x="0" y="0" font-size="9.1" text-anchor="middle" fill="#2a2a2a" stroke="#2a2a2a" stroke-width="0.5" transform="translate(683.7 183.3) rotate(-90) scale(0.8385 1)">+0</text>
<line x1="650.4" y1="173.5" x2="650.4" y2="231.5" stroke="#2a2a2a" stroke-width="0.5"/>
<polygon points="650.4,181.3 649.1,176.8 651.7,176.8" fill="#2a2a2a"/>
<polygon points="650.4,189.8 651.7,194.3 649.1,194.3" fill="#2a2a2a"/>
<text x="0.26" y="0" font-size="9.1" text-anchor="middle" fill="#2a2a2a" stroke="#2a2a2a" stroke-width="0.5" letter-spacing="0.526" transform="translate(649.4 220.5) rotate(-90) scale(0.8600 1)">Ø3h6</text>
<line x1="284.4" y1="220" x2="284.4" y2="270" stroke="#2a2a2a" stroke-width="0.5"/>
<line x1="636.6" y1="219.6" x2="636.6" y2="270" stroke="#2a2a2a" stroke-width="0.5"/>
<line x1="307" y1="220" x2="307" y2="258" stroke="#2a2a2a" stroke-width="0.5"/>
<text x="0" y="0" font-size="9.1" text-anchor="start" fill="#2a2a2a" stroke="#2a2a2a" stroke-width="0.5" letter-spacing="0.739" transform="translate(310.7 238.5) scale(0.8600 1)">2-M2.6x0.45Px3.5 DP</text>
<line x1="310" y1="240.3" x2="400" y2="240.3" stroke="#2a2a2a" stroke-width="0.5"/>
<line x1="400" y1="240.3" x2="420" y2="201" stroke="#2a2a2a" stroke-width="0.5"/>
<polygon points="420.5,201.5 419.65,206.11 417.32,204.94" fill="#2a2a2a"/>
<line x1="416.3" y1="211" x2="416.3" y2="243" stroke="#2a2a2a" stroke-width="0.5"/>
<line x1="427.7" y1="211" x2="427.7" y2="243" stroke="#2a2a2a" stroke-width="0.5"/>
<line x1="405" y1="240.8" x2="432" y2="240.8" stroke="#2a2a2a" stroke-width="0.5"/>
<polygon points="416.3,240.8 411.8,242.1 411.8,239.5" fill="#2a2a2a"/>
<polygon points="427.7,240.8 432.2,239.5 432.2,242.1" fill="#2a2a2a"/>
<text x="0" y="0" font-size="9.1" text-anchor="start" fill="#2a2a2a" stroke="#2a2a2a" stroke-width="0.5" letter-spacing="0.915" transform="translate(433 238.5) scale(0.8600 1)">5x1.2 DP</text>
<line x1="432" y1="240.3" x2="472" y2="240.3" stroke="#2a2a2a" stroke-width="0.5"/>
<line x1="284.4" y1="256.3" x2="307" y2="256.3" stroke="#2a2a2a" stroke-width="0.6"/>
<polygon points="284.4,256.3 288.9,255 288.9,257.6" fill="#2a2a2a"/>
<polygon points="307,256.3 302.5,257.6 302.5,255" fill="#2a2a2a"/>
<text x="292" y="253.7" font-size="9.1" text-anchor="middle" fill="#2a2a2a" stroke="#2a2a2a" stroke-width="0.5">2</text>
<line x1="270" y1="256.3" x2="284.4" y2="256.3" stroke="#2a2a2a" stroke-width="0.5"/>
<line x1="307" y1="256.3" x2="536.7" y2="256.3" stroke="#2a2a2a" stroke-width="0.6"/>
<polygon points="307,256.3 311.5,255 311.5,257.6" fill="#2a2a2a"/>
<polygon points="536.7,256.3 532.2,257.6 532.2,255" fill="#2a2a2a"/>
<text x="0.17" y="0" font-size="9.1" text-anchor="middle" fill="#2a2a2a" stroke="#2a2a2a" stroke-width="0.5" letter-spacing="0.344" transform="translate(421.3 253.7) scale(0.8600 1)">L2</text>
<line x1="284.4" y1="268.3" x2="636.6" y2="268.3" stroke="#2a2a2a" stroke-width="0.6"/>
<polygon points="284.4,268.3 288.9,267 288.9,269.6" fill="#2a2a2a"/>
<polygon points="636.6,268.3 632.1,269.6 632.1,267" fill="#2a2a2a"/>
<text x="0.17" y="0" font-size="9.1" text-anchor="middle" fill="#2a2a2a" stroke="#2a2a2a" stroke-width="0.5" letter-spacing="0.344" transform="translate(461 266.2) scale(0.8600 1)">L1</text>
<line x1="527.3" y1="210" x2="527.3" y2="233" stroke="#2a2a2a" stroke-width="0.5"/>
<line x1="536.7" y1="219.6" x2="536.7" y2="258" stroke="#2a2a2a" stroke-width="0.5"/>
<line x1="545.6" y1="219" x2="545.6" y2="246" stroke="#2a2a2a" stroke-width="0.5"/>
<line x1="520" y1="231" x2="543" y2="231" stroke="#2a2a2a" stroke-width="0.5"/>
<polygon points="527.3,231 522.8,232.3 522.8,229.7" fill="#2a2a2a"/>
<polygon points="536.7,231 541.2,229.7 541.2,232.3" fill="#2a2a2a"/>
<text x="531.5" y="229.7" font-size="9.1" text-anchor="middle" fill="#2a2a2a" stroke="#2a2a2a" stroke-width="0.5">4</text>
<line x1="528" y1="243.6" x2="560" y2="243.6" stroke="#2a2a2a" stroke-width="0.5"/>
<polygon points="536.7,243.6 532.2,244.9 532.2,242.3" fill="#2a2a2a"/>
<polygon points="545.6,243.6 550.1,242.3 550.1,244.9" fill="#2a2a2a"/>
<text x="540.6" y="242.4" font-size="9.1" text-anchor="middle" fill="#2a2a2a" stroke="#2a2a2a" stroke-width="0.5">4</text>
<line x1="562.4" y1="205" x2="562.4" y2="233" stroke="#2a2a2a" stroke-width="0.5"/>
<line x1="574.9" y1="199" x2="574.9" y2="233" stroke="#2a2a2a" stroke-width="0.5"/>
<line x1="592.4" y1="189" x2="592.4" y2="258" stroke="#2a2a2a" stroke-width="0.5"/>
<line x1="555" y1="231" x2="600" y2="231" stroke="#2a2a2a" stroke-width="0.5"/>
<polygon points="562.4,231 557.9,232.3 557.9,229.7" fill="#2a2a2a"/>
<polygon points="574.9,231 579.4,229.7 579.4,232.3" fill="#2a2a2a"/>
<polygon points="592.4,231 596.9,229.7 596.9,232.3" fill="#2a2a2a"/>
<text x="0.47" y="0" font-size="9.1" text-anchor="middle" fill="#2a2a2a" stroke="#2a2a2a" stroke-width="0.5" letter-spacing="0.943" transform="translate(568.4 229.7) scale(0.8600 1)">5.5</text>
<text x="0.47" y="0" font-size="9.1" text-anchor="middle" fill="#2a2a2a" stroke="#2a2a2a" stroke-width="0.5" letter-spacing="0.943" transform="translate(584 229.7) scale(0.8600 1)">7.5</text>
<line x1="536.7" y1="256" x2="592.4" y2="256" stroke="#2a2a2a" stroke-width="0.6"/>
<polygon points="536.7,256 541.2,254.7 541.2,257.3" fill="#2a2a2a"/>
<polygon points="592.4,256 587.9,257.3 587.9,254.7" fill="#2a2a2a"/>
<text x="0.34" y="0" font-size="9.1" text-anchor="middle" fill="#2a2a2a" stroke="#2a2a2a" stroke-width="0.5" letter-spacing="0.686" transform="translate(563.6 254.4) scale(0.8600 1)">24.5</text>
<line x1="101.9" y1="317" x2="101.9" y2="329.3" stroke="#2a2a2a" stroke-width="0.5"/>
<line x1="169.3" y1="317" x2="169.3" y2="329.3" stroke="#2a2a2a" stroke-width="0.5"/>
<line x1="101.9" y1="320.4" x2="169.3" y2="320.4" stroke="#2a2a2a" stroke-width="0.6"/>
<polygon points="101.9,320.4 106.4,319.1 106.4,321.7" fill="#2a2a2a"/>
<polygon points="169.3,320.4 164.8,321.7 164.8,319.1" fill="#2a2a2a"/>
<text x="0.44" y="0" font-size="9.1" text-anchor="middle" fill="#2a2a2a" stroke="#2a2a2a" stroke-width="0.5" letter-spacing="0.880" transform="translate(135.6 317.3) scale(0.8600 1)">29.6</text>
<rect x="101.9" y="329.3" width="67.4" height="51.8" stroke="#2a2a2a" stroke-width="0.9" fill="none"/>
<line x1="101.9" y1="381.1" x2="169.3" y2="381.1" stroke="#2a2a2a" stroke-width="1.4"/>
<path d="M128.2,381 A22.3,22.3 0 1 1 143.2,381" stroke="#2a2a2a" stroke-width="0.8" fill="none"/>
<circle cx="135.7" cy="360" r="19.3" stroke="#2a2a2a" stroke-width="0.8" fill="none"/>
<path d="M128,347.3 L143.3,347.3 Q148.3,347.3 148.3,352.3 L148.3,367.7 Q148.3,372.7 143.3,372.7 L128,372.7 Q123,372.7 123,367.7 L123,352.3 Q123,347.3 128,347.3 Z" stroke="#2a2a2a" stroke-width="0.9" fill="none"/>
<circle cx="135.7" cy="360" r="3.5" stroke="#2a2a2a" stroke-width="0.8" fill="none"/>
<circle cx="107.3" cy="360" r="3.4" stroke="#2a2a2a" stroke-width="0.8" fill="none"/>
<circle cx="107.3" cy="375.3" r="3.4" stroke="#2a2a2a" stroke-width="0.8" fill="none"/>
<circle cx="164.3" cy="360" r="3.4" stroke="#2a2a2a" stroke-width="0.8" fill="none"/>
<circle cx="164.3" cy="375.3" r="3.4" stroke="#2a2a2a" stroke-width="0.8" fill="none"/>
<line x1="135.7" y1="316" x2="135.7" y2="386" stroke="#888" stroke-width="0.4" stroke-dasharray="4,1.5,1,1.5"/>
<line x1="96" y1="360" x2="190" y2="360" stroke="#888" stroke-width="0.4" stroke-dasharray="4,1.5,1,1.5"/>
<line x1="164" y1="375.3" x2="190" y2="375.3" stroke="#2a2a2a" stroke-width="0.4"/>
<text x="0" y="0" font-size="9.1" text-anchor="start" fill="#2a2a2a" stroke="#2a2a2a" stroke-width="0.5" letter-spacing="0.819" transform="translate(174 333.6) scale(0.8600 1)">4-Ø3 THRU</text>
<line x1="173" y1="335.2" x2="222" y2="335.2" stroke="#2a2a2a" stroke-width="0.5"/>
<line x1="173" y1="335.2" x2="165.5" y2="355.5" stroke="#2a2a2a" stroke-width="0.5"/>
<polygon points="165.5,355.5 165.96,350.84 168.38,351.8" fill="#2a2a2a"/>
<line x1="80" y1="329.3" x2="101.9" y2="329.3" stroke="#2a2a2a" stroke-width="0.5"/>
<line x1="78" y1="381.1" x2="101.9" y2="381.1" stroke="#2a2a2a" stroke-width="0.5"/>
<line x1="82.8" y1="329.3" x2="82.8" y2="381.1" stroke="#2a2a2a" stroke-width="0.6"/>
<polygon points="82.8,329.3 84.1,333.8 81.5,333.8" fill="#2a2a2a"/>
<polygon points="82.8,381.1 81.5,376.6 84.1,376.6" fill="#2a2a2a"/>
<text x="0" y="0" font-size="9.1" text-anchor="middle" fill="#2a2a2a" stroke="#2a2a2a" stroke-width="0.5" transform="translate(84.6 355) rotate(-90) scale(0.8398 1)">23</text>
<line x1="94.8" y1="370" x2="94.8" y2="392" stroke="#2a2a2a" stroke-width="0.5"/>
<polygon points="94.8,381.1 96.1,385.6 93.5,385.6" fill="#2a2a2a"/>
<text x="0.18" y="0" font-size="9.1" text-anchor="middle" fill="#2a2a2a" stroke="#2a2a2a" stroke-width="0.5" letter-spacing="0.362" transform="translate(92 367.2) rotate(-90) scale(0.8600 1)">0.5</text>
<line x1="107.3" y1="376" x2="107.3" y2="402" stroke="#2a2a2a" stroke-width="0.5"/>
<line x1="164.3" y1="376" x2="164.3" y2="402" stroke="#2a2a2a" stroke-width="0.5"/>
<line x1="107.3" y1="399.3" x2="164.3" y2="399.3" stroke="#2a2a2a" stroke-width="0.6"/>
<polygon points="107.3,399.3 111.8,398 111.8,400.6" fill="#2a2a2a"/>
<polygon points="164.3,399.3 159.8,400.6 159.8,398" fill="#2a2a2a"/>
<text x="0.17" y="0" font-size="9.1" text-anchor="middle" fill="#2a2a2a" stroke="#2a2a2a" stroke-width="0.5" letter-spacing="0.344" transform="translate(135.7 397.3) scale(0.8600 1)">25</text>
<line x1="185.7" y1="340" x2="185.7" y2="412" stroke="#2a2a2a" stroke-width="0.5"/>
<polygon points="185.7,360 184.4,355.5 187,355.5" fill="#2a2a2a"/>
<polygon points="185.7,375.3 187,379.8 184.4,379.8" fill="#2a2a2a"/>
<polygon points="185.7,381.1 187,385.6 184.4,385.6" fill="#2a2a2a"/>
<line x1="169.3" y1="381.1" x2="190" y2="381.1" stroke="#2a2a2a" stroke-width="0.4"/>
<text x="0.28" y="0" font-size="9.1" text-anchor="middle" fill="#2a2a2a" stroke="#2a2a2a" stroke-width="0.5" letter-spacing="0.570" transform="translate(183.7 348.3) rotate(-90) scale(0.8600 1)">6.75</text>
<text x="0.4" y="0" font-size="9.1" text-anchor="middle" fill="#2a2a2a" stroke="#2a2a2a" stroke-width="0.5" letter-spacing="0.802" transform="translate(183.7 396.6) rotate(-90) scale(0.8600 1)">2.75</text>
<text x="0.12" y="0" font-size="9.8" text-anchor="middle" fill="#2a2a2a" stroke="#2a2a2a" stroke-width="0.5" letter-spacing="0.232" transform="translate(135.6 414.7) scale(0.8600 1)">VIEW B</text>
<rect x="284.3" y="332.2" width="23.1" height="49.1" stroke="#2a2a2a" stroke-width="0.9" fill="none"/>
<line x1="284.3" y1="310" x2="284.3" y2="332" stroke="#2a2a2a" stroke-width="0.5"/>
<line x1="307.4" y1="310" x2="307.4" y2="332" stroke="#2a2a2a" stroke-width="0.5"/>
<line x1="284.3" y1="310.7" x2="307.4" y2="310.7" stroke="#2a2a2a" stroke-width="0.6"/>
<polygon points="284.3,310.7 288.8,309.4 288.8,312" fill="#2a2a2a"/>
<polygon points="307.4,310.7 302.9,312 302.9,309.4" fill="#2a2a2a"/>
<text x="0.17" y="0" font-size="9.1" text-anchor="middle" fill="#2a2a2a" stroke="#2a2a2a" stroke-width="0.5" letter-spacing="0.344" transform="translate(295.5 308.5) scale(0.8600 1)">10</text>
<line x1="286.4" y1="322.4" x2="315.7" y2="322.4" stroke="#2a2a2a" stroke-width="0.5"/>
<polygon points="295.5,322.4 291,323.7 291,321.1" fill="#2a2a2a"/>
<polygon points="307.4,322.4 311.9,321.1 311.9,323.7" fill="#2a2a2a"/>
<text x="301" y="320.3" font-size="9.1" text-anchor="middle" fill="#2a2a2a" stroke="#2a2a2a" stroke-width="0.5">5</text>
<line x1="295.5" y1="320" x2="295.5" y2="350" stroke="#888" stroke-width="0.4" stroke-dasharray="3,1.2"/>
<path d="M292.8,332.5 L292.8,345 L295.5,347.5 L298.7,345 L298.7,332.5" stroke="#666" stroke-width="0.5" fill="none" stroke-dasharray="1.5,1"/>
<line x1="277.9" y1="360.6" x2="700" y2="360.6" stroke="#888" stroke-width="0.4" stroke-dasharray="9,2,1.5,2"/>
<circle cx="302.4" cy="368.3" r="2.4" stroke="#2a2a2a" stroke-width="0.8" fill="none"/>
<rect x="284.8" y="369.3" width="10.9" height="12" stroke="#2a2a2a" stroke-width="0.8" fill="none"/>
<line x1="288.5" y1="369.3" x2="288.5" y2="381.3" stroke="#2a2a2a" stroke-width="0.7"/>
<line x1="250.7" y1="332.2" x2="284.3" y2="332.2" stroke="#2a2a2a" stroke-width="0.5"/>
<line x1="252" y1="332.2" x2="252" y2="381.3" stroke="#2a2a2a" stroke-width="0.6"/>
<polygon points="252,332.2 253.3,336.7 250.7,336.7" fill="#2a2a2a"/>
<polygon points="252,381.3 250.7,376.8 253.3,376.8" fill="#2a2a2a"/>
<text x="0.05" y="0" font-size="9.1" text-anchor="middle" fill="#2a2a2a" stroke="#2a2a2a" stroke-width="0.5" letter-spacing="0.105" transform="translate(250.7 357.6) rotate(-90) scale(0.8600 1)">21.5</text>
<line x1="261" y1="369.3" x2="284.3" y2="369.3" stroke="#2a2a2a" stroke-width="0.5"/>
<line x1="263.5" y1="369.3" x2="263.5" y2="381.3" stroke="#2a2a2a" stroke-width="0.6"/>
<polygon points="263.5,369.3 264.8,373.8 262.2,373.8" fill="#2a2a2a"/>
<polygon points="263.5,381.3 262.2,376.8 264.8,376.8" fill="#2a2a2a"/>
<text x="0" y="0" font-size="9.1" text-anchor="middle" fill="#2a2a2a" stroke="#2a2a2a" stroke-width="0.5" transform="translate(262.4 374.7) rotate(-90) scale(1.0000 1)">6</text>
<line x1="275.7" y1="372.5" x2="275.7" y2="402" stroke="#2a2a2a" stroke-width="0.5"/>
<polygon points="275.7,381.3 277,385.8 274.4,385.8" fill="#2a2a2a"/>
<text x="0.18" y="0" font-size="9.1" text-anchor="middle" fill="#2a2a2a" stroke="#2a2a2a" stroke-width="0.5" letter-spacing="0.362" transform="translate(272 393.9) rotate(-90) scale(0.8600 1)">0.5</text>
<line x1="250.7" y1="381.3" x2="284.3" y2="381.3" stroke="#2a2a2a" stroke-width="0.5"/>
<line x1="307.4" y1="354.1" x2="382.3" y2="354.1" stroke="#2a2a2a" stroke-width="1.6"/>
<line x1="462" y1="354.1" x2="527" y2="354.1" stroke="#2a2a2a" stroke-width="1.6"/>
<line x1="307.4" y1="361.3" x2="536.2" y2="361.3" stroke="#2a2a2a" stroke-width="1.3"/>
<line x1="307.4" y1="374.5" x2="536.2" y2="374.5" stroke="#777" stroke-width="0.5" stroke-dasharray="2.5,1.5"/>
<line x1="284.3" y1="381.3" x2="536.2" y2="381.3" stroke="#2a2a2a" stroke-width="1"/>
<path d="M328.2,374.5 L328.2,377.5 L332.2,377.5 L332.2,381 M342.2,374.5 L342.2,377.5 L338.2,377.5 L338.2,381" stroke="#777" stroke-width="0.4" fill="none" stroke-dasharray="1.5,1"/>
<line x1="335.2" y1="370" x2="335.2" y2="384" stroke="#999" stroke-width="0.3"/>
<path d="M387,374.5 L387,377.5 L391,377.5 L391,381 M401,374.5 L401,377.5 L397,377.5 L397,381" stroke="#777" stroke-width="0.4" fill="none" stroke-dasharray="1.5,1"/>
<line x1="394" y1="370" x2="394" y2="384" stroke="#999" stroke-width="0.3"/>
<path d="M500.4,374.5 L500.4,377.5 L504.4,377.5 L504.4,381 M514.4,374.5 L514.4,377.5 L510.4,377.5 L510.4,381" stroke="#777" stroke-width="0.4" fill="none" stroke-dasharray="1.5,1"/>
<line x1="507.4" y1="370" x2="507.4" y2="384" stroke="#999" stroke-width="0.3"/>
<rect x="355" y="340" width="6" height="46" fill="#ffffff"/>
<line x1="356.5" y1="343" x2="355.5" y2="386" stroke="#999" stroke-width="0.6"/>
<line x1="360.5" y1="343" x2="359.5" y2="386" stroke="#999" stroke-width="0.6"/>
<path d="M382.3,361.3 L382.3,348.3 L396,348.3 L396,347.1 L416.7,347.1 L416.7,350.3 L427.3,350.3 L427.3,347.1 L448.7,347.1 L448.7,348.3 L462,348.3 L462,361.3" stroke="#2a2a2a" stroke-width="1" fill="none"/>
<line x1="384.4" y1="348.3" x2="384.4" y2="361.3" stroke="#2a2a2a" stroke-width="0.7"/>
<line x1="460.2" y1="348.3" x2="460.2" y2="361.3" stroke="#2a2a2a" stroke-width="0.7"/>
<line x1="384.4" y1="354" x2="396" y2="354" stroke="#2a2a2a" stroke-width="0.6"/>
<line x1="448.7" y1="354" x2="460.2" y2="354" stroke="#2a2a2a" stroke-width="0.6"/>
<line x1="384.4" y1="356.2" x2="396" y2="356.2" stroke="#2a2a2a" stroke-width="0.6"/>
<line x1="448.7" y1="356.2" x2="460.2" y2="356.2" stroke="#2a2a2a" stroke-width="0.6"/>
<line x1="396" y1="348.3" x2="396" y2="361.3" stroke="#2a2a2a" stroke-width="0.7"/>
<line x1="448.7" y1="348.3" x2="448.7" y2="361.3" stroke="#2a2a2a" stroke-width="0.7"/>
<path d="M404.2,349 L404.2,358 M409.2,349 L409.2,358" stroke="#777" stroke-width="0.4" fill="none" stroke-dasharray="1.5,1"/>
<line x1="406.7" y1="345" x2="406.7" y2="364" stroke="#999" stroke-width="0.3"/>
<path d="M420.2,349 L420.2,358 M425.2,349 L425.2,358" stroke="#777" stroke-width="0.4" fill="none" stroke-dasharray="1.5,1"/>
<line x1="422.7" y1="345" x2="422.7" y2="364" stroke="#999" stroke-width="0.3"/>
<path d="M435.5,349 L435.5,358 M440.5,349 L440.5,358" stroke="#777" stroke-width="0.4" fill="none" stroke-dasharray="1.5,1"/>
<line x1="438" y1="345" x2="438" y2="364" stroke="#999" stroke-width="0.3"/>
<rect x="527" y="346.9" width="4.8" height="13.8" stroke="#2a2a2a" stroke-width="0.8" fill="none"/>
<rect x="531.8" y="350" width="4.4" height="11" stroke="#2a2a2a" stroke-width="0.8" fill="none"/>
<line x1="371.6" y1="339.6" x2="371.6" y2="392" stroke="#2a2a2a" stroke-width="0.5" stroke-dasharray="4,1.5,1,1.5"/>
<line x1="371.6" y1="339.6" x2="381.3" y2="339.6" stroke="#2a2a2a" stroke-width="0.5"/>
<polygon points="381.3,339.6 376.8,340.9 376.8,338.3" fill="#2a2a2a"/>
<line x1="371.6" y1="392" x2="381.3" y2="392" stroke="#2a2a2a" stroke-width="0.5"/>
<polygon points="381.3,392 376.8,393.3 376.8,390.7" fill="#2a2a2a"/>
<text x="0" y="0" font-size="9.1" text-anchor="start" fill="#2a2a2a" stroke="#2a2a2a" stroke-width="0.5" transform="translate(384.7 341.7) scale(0.9226 1)">A</text>
<text x="0" y="0" font-size="9.1" text-anchor="start" fill="#2a2a2a" stroke="#2a2a2a" stroke-width="0.5" transform="translate(384.7 394) scale(0.9226 1)">A</text>
<line x1="394.7" y1="374" x2="394.7" y2="397" stroke="#2a2a2a" stroke-width="0.5"/>
<line x1="507.4" y1="381" x2="507.4" y2="410" stroke="#2a2a2a" stroke-width="0.5"/>
<line x1="335.2" y1="381" x2="335.2" y2="410" stroke="#2a2a2a" stroke-width="0.5"/>
<line x1="394.7" y1="395.6" x2="507.4" y2="395.6" stroke="#2a2a2a" stroke-width="0.6"/>
<polygon points="394.7,395.6 399.2,394.3 399.2,396.9" fill="#2a2a2a"/>
<polygon points="507.4,395.6 502.9,396.9 502.9,394.3" fill="#2a2a2a"/>
<text x="0.17" y="0" font-size="9.1" text-anchor="middle" fill="#2a2a2a" stroke="#2a2a2a" stroke-width="0.5" letter-spacing="0.344" transform="translate(450 393.7) scale(0.8600 1)">50</text>
<line x1="335.2" y1="408.3" x2="507.4" y2="408.3" stroke="#2a2a2a" stroke-width="0.6"/>
<polygon points="335.2,408.3 339.7,407 339.7,409.6" fill="#2a2a2a"/>
<polygon points="507.4,408.3 502.9,409.6 502.9,407" fill="#2a2a2a"/>
<text x="0.65" y="0" font-size="9.1" text-anchor="middle" fill="#2a2a2a" stroke="#2a2a2a" stroke-width="0.5" letter-spacing="1.306" transform="translate(418.3 406) scale(0.8600 1)">(n-1)x50</text>
<line x1="536.2" y1="381" x2="536.2" y2="410" stroke="#2a2a2a" stroke-width="0.5"/>
<line x1="507.4" y1="408.3" x2="536.2" y2="408.3" stroke="#2a2a2a" stroke-width="0.6"/>
<polygon points="507.4,408.3 511.9,407 511.9,409.6" fill="#2a2a2a"/>
<polygon points="536.2,408.3 531.7,409.6 531.7,407" fill="#2a2a2a"/>
<text x="522.4" y="406" font-size="9.1" text-anchor="middle" fill="#2a2a2a" stroke="#2a2a2a" stroke-width="0.5">G</text>
<path d="M536.2,381.1 L536.2,332 L559.2,332 L559.2,329.4 L636.6,329.4 L636.6,380.6 L536.2,380.6" stroke="#2a2a2a" stroke-width="1" fill="none"/>
<line x1="536.2" y1="380.6" x2="636.6" y2="380.6" stroke="#2a2a2a" stroke-width="1"/>
<path d="M555.4,380.6 L555.4,351 Q555.4,347 559.4,347 L618.6,347 Q622.6,347 622.6,351 L622.6,380.6" stroke="#2a2a2a" stroke-width="0.9" fill="none"/>
<rect x="555.5" y="370.3" width="7.5" height="10.3" stroke="#2a2a2a" stroke-width="0.8" fill="none"/>
<line x1="562.5" y1="329.4" x2="562.5" y2="380.6" stroke="#666" stroke-width="0.5" stroke-dasharray="3,1.5"/>
<polyline points="562.5,347.7 573.5,347.7 573.5,372 562.5,372" stroke="#666" stroke-width="0.5" fill="none" stroke-dasharray="3,1.5"/>
<polyline points="573.5,356.4 592,356.4 592,363.3 573.5,363.3" stroke="#666" stroke-width="0.5" fill="none" stroke-dasharray="3,1.5"/>
<polyline points="619.6,329.4 619.6,340 631,340 631,338 633.5,338 633.5,378 566.8,378" stroke="#666" stroke-width="0.5" fill="none" stroke-dasharray="3,1.5"/>
<circle cx="545.1" cy="367.7" r="2.8" stroke="#2a2a2a" stroke-width="0.8" fill="none"/>
<line x1="541" y1="367.7" x2="549" y2="367.7" stroke="#2a2a2a" stroke-width="0.4"/>
<line x1="545.1" y1="363.5" x2="545.1" y2="372" stroke="#2a2a2a" stroke-width="0.4"/>
<path d="M544.3,332 L544.3,345 L547.7,348 L551.2,345 L551.2,332" stroke="#555" stroke-width="0.5" fill="none" stroke-dasharray="2,1"/>
<line x1="547.7" y1="318" x2="547.7" y2="350" stroke="#888" stroke-width="0.4" stroke-dasharray="3,1.2"/>
<line x1="536.2" y1="283" x2="536.2" y2="332" stroke="#2a2a2a" stroke-width="0.5"/>
<line x1="636.6" y1="283" x2="636.6" y2="329" stroke="#2a2a2a" stroke-width="0.5"/>
<line x1="536.2" y1="286.2" x2="636.6" y2="286.2" stroke="#2a2a2a" stroke-width="0.6"/>
<polygon points="536.2,286.2 540.7,284.9 540.7,287.5" fill="#2a2a2a"/>
<polygon points="636.6,286.2 632.1,287.5 632.1,284.9" fill="#2a2a2a"/>
<text x="0.17" y="0" font-size="9.1" text-anchor="middle" fill="#2a2a2a" stroke="#2a2a2a" stroke-width="0.5" letter-spacing="0.344" transform="translate(585.8 284) scale(0.8600 1)">44</text>
<line x1="559.2" y1="295" x2="559.2" y2="332" stroke="#2a2a2a" stroke-width="0.5"/>
<line x1="619.4" y1="295" x2="619.4" y2="336" stroke="#2a2a2a" stroke-width="0.5"/>
<line x1="536.2" y1="298" x2="559.2" y2="298" stroke="#2a2a2a" stroke-width="0.6"/>
<polygon points="536.2,298 540.7,296.7 540.7,299.3" fill="#2a2a2a"/>
<polygon points="559.2,298 554.7,299.3 554.7,296.7" fill="#2a2a2a"/>
<line x1="559.2" y1="298" x2="619.4" y2="298" stroke="#2a2a2a" stroke-width="0.6"/>
<polygon points="559.2,298 563.7,296.7 563.7,299.3" fill="#2a2a2a"/>
<polygon points="619.4,298 614.9,299.3 614.9,296.7" fill="#2a2a2a"/>
<text x="0.07" y="0" font-size="9.1" text-anchor="middle" fill="#2a2a2a" stroke="#2a2a2a" stroke-width="0.5" letter-spacing="0.136" transform="translate(548 295.8) scale(0.8600 1)">11.5</text>
<text x="0.17" y="0" font-size="9.1" text-anchor="middle" fill="#2a2a2a" stroke="#2a2a2a" stroke-width="0.5" letter-spacing="0.344" transform="translate(589.6 295.8) scale(0.8600 1)">25</text>
<line x1="536.2" y1="309.6" x2="559.2" y2="309.6" stroke="#2a2a2a" stroke-width="0.6"/>
<polygon points="536.2,309.6 540.7,308.3 540.7,310.9" fill="#2a2a2a"/>
<polygon points="559.2,309.6 554.7,310.9 554.7,308.3" fill="#2a2a2a"/>
<text x="0.17" y="0" font-size="9.1" text-anchor="middle" fill="#2a2a2a" stroke="#2a2a2a" stroke-width="0.5" letter-spacing="0.344" transform="translate(547.5 307) scale(0.8600 1)">10</text>
<line x1="527" y1="321.4" x2="556" y2="321.4" stroke="#2a2a2a" stroke-width="0.5"/>
<polygon points="536.2,321.4 531.7,322.7 531.7,320.1" fill="#2a2a2a"/>
<polygon points="547,321.4 551.5,320.1 551.5,322.7" fill="#2a2a2a"/>
<text x="541.6" y="318.8" font-size="9.1" text-anchor="middle" fill="#2a2a2a" stroke="#2a2a2a" stroke-width="0.5">5</text>
<text x="0" y="0" font-size="9.8" text-anchor="start" fill="#2a2a2a" stroke="#2a2a2a" stroke-width="0.5" letter-spacing="0.209" transform="translate(653.6 354.4) scale(0.8600 1)">VIEW B</text>
<line x1="650" y1="359.8" x2="680" y2="359.8" stroke="#2a2a2a" stroke-width="0.6"/>
<polygon points="650,359.8 656,358.2 656,361.4" fill="#2a2a2a"/>
<line x1="105.4" y1="649" x2="105.4" y2="674.6" stroke="#2a2a2a" stroke-width="0.5"/>
<line x1="150.4" y1="649" x2="150.4" y2="674.6" stroke="#2a2a2a" stroke-width="0.5"/>
<line x1="105.4" y1="652.6" x2="150.4" y2="652.6" stroke="#2a2a2a" stroke-width="0.6"/>
<polygon points="105.4,652.6 109.9,651.3 109.9,653.9" fill="#2a2a2a"/>
<polygon points="150.4,652.6 145.9,653.9 145.9,651.3" fill="#2a2a2a"/>
<text x="0.17" y="0" font-size="9.1" text-anchor="middle" fill="#2a2a2a" stroke="#2a2a2a" stroke-width="0.5" letter-spacing="0.344" transform="translate(128 650) scale(0.8600 1)">26</text>
<line x1="112.6" y1="660" x2="112.6" y2="676" stroke="#2a2a2a" stroke-width="0.5"/>
<line x1="143.8" y1="660" x2="143.8" y2="676" stroke="#2a2a2a" stroke-width="0.5"/>
<line x1="112.6" y1="662.8" x2="143.8" y2="662.8" stroke="#2a2a2a" stroke-width="0.6"/>
<polygon points="112.6,662.8 117.1,661.5 117.1,664.1" fill="#2a2a2a"/>
<polygon points="143.8,662.8 139.3,664.1 139.3,661.5" fill="#2a2a2a"/>
<text x="0.17" y="0" font-size="9.1" text-anchor="middle" fill="#2a2a2a" stroke="#2a2a2a" stroke-width="0.5" letter-spacing="0.344" transform="translate(128 661.2) scale(0.8600 1)">18</text>
<line x1="75" y1="674.6" x2="105.4" y2="674.6" stroke="#2a2a2a" stroke-width="0.5"/>
<line x1="75" y1="708.8" x2="93.4" y2="708.8" stroke="#2a2a2a" stroke-width="0.5"/>
<line x1="78.4" y1="674.6" x2="78.4" y2="708.8" stroke="#2a2a2a" stroke-width="0.6"/>
<polygon points="78.4,674.6 79.7,679.1 77.1,679.1" fill="#2a2a2a"/>
<polygon points="78.4,708.8 77.1,704.3 79.7,704.3" fill="#2a2a2a"/>
<text x="0" y="0" font-size="9.1" text-anchor="middle" fill="#2a2a2a" stroke="#2a2a2a" stroke-width="0.5" transform="translate(76.5 691.6) rotate(-90) scale(0.8398 1)">20</text>
<path d="M105.4,674.6 L119.2,674.6 L120.5,676.4 L136.5,676.4 L137.8,674.6 L150.4,674.6 L150.4,684.8 L153,688 L151.2,690.5 L152.5,693.5 L150.4,696 L150.4,697.5 Q150.4,699.8 148,699.8 L107.8,699.8 Q105.4,699.8 105.4,697.5 L105.4,696 L103.3,693.5 L104.6,690.5 L102.8,688 L105.4,684.8 Z" stroke="#2a2a2a" stroke-width="1.1" fill="none"/>
<path d="M93.4,708.8 L93.4,691 Q93.4,687.5 97,687 L101.8,685.4" stroke="#2a2a2a" stroke-width="0.8" fill="none"/>
<path d="M161.8,708.8 L161.8,691 Q161.8,687.5 158.2,687 L153.4,685.4" stroke="#2a2a2a" stroke-width="0.8" fill="none"/>
<line x1="93.4" y1="708.8" x2="161.8" y2="708.8" stroke="#2a2a2a" stroke-width="0.9"/>
<line x1="93.4" y1="707.3" x2="161.8" y2="707.3" stroke="#888" stroke-width="0.4"/>
<rect x="107.2" y="699.8" width="11.4" height="5.4" stroke="#2a2a2a" stroke-width="0.6" fill="none"/>
<rect x="137.8" y="699.8" width="11.4" height="5.4" stroke="#2a2a2a" stroke-width="0.6" fill="none"/>
<line x1="110.5" y1="705.2" x2="110.5" y2="708.8" stroke="#2a2a2a" stroke-width="0.5"/>
<line x1="115.5" y1="705.2" x2="115.5" y2="708.8" stroke="#2a2a2a" stroke-width="0.5"/>
<line x1="141" y1="705.2" x2="141" y2="708.8" stroke="#2a2a2a" stroke-width="0.5"/>
<line x1="146" y1="705.2" x2="146" y2="708.8" stroke="#2a2a2a" stroke-width="0.5"/>
<circle cx="128.2" cy="686.6" r="6.8" stroke="#2a2a2a" stroke-width="1.3" fill="none"/>
<path d="M110.1,675 L110.1,683 L112.6,685.5 L115.1,683 L115.1,675" stroke="#666" stroke-width="0.5" fill="none"/>
<path d="M141.3,675 L141.3,683 L143.8,685.5 L146.3,683 L146.3,675" stroke="#666" stroke-width="0.5" fill="none"/>
<line x1="128.2" y1="665" x2="128.2" y2="725" stroke="#888" stroke-width="0.4" stroke-dasharray="4,1.5,1,1.5"/>
<line x1="98" y1="686.6" x2="158" y2="686.6" stroke="#aaa" stroke-width="0.4" stroke-dasharray="4,1.5,1,1.5"/>
<line x1="153" y1="686" x2="199.3" y2="686" stroke="#999" stroke-width="1"/>
<line x1="161.8" y1="709.3" x2="199.3" y2="709.3" stroke="#2a2a2a" stroke-width="0.6"/>
<line x1="150.4" y1="705.3" x2="177.3" y2="705.3" stroke="#2a2a2a" stroke-width="0.5"/>
<line x1="198" y1="686" x2="198" y2="709.3" stroke="#2a2a2a" stroke-width="0.6"/>
<polygon points="198,686 199.3,690.5 196.7,690.5" fill="#2a2a2a"/>
<polygon points="198,709.3 196.7,704.8 199.3,704.8" fill="#2a2a2a"/>
<text x="0.28" y="0" font-size="9.1" text-anchor="middle" fill="#2a2a2a" stroke="#2a2a2a" stroke-width="0.5" letter-spacing="0.570" transform="translate(196.5 697.3) rotate(-90) scale(0.8600 1)">13.5</text>
<line x1="186.7" y1="686" x2="186.7" y2="705.3" stroke="#2a2a2a" stroke-width="0.6"/>
<polygon points="186.7,686 188,690.5 185.4,690.5" fill="#2a2a2a"/>
<polygon points="186.7,705.3 185.4,700.8 188,700.8" fill="#2a2a2a"/>
<text x="0" y="0" font-size="9.1" text-anchor="middle" fill="#2a2a2a" stroke="#2a2a2a" stroke-width="0.5" transform="translate(183.7 698) rotate(-90) scale(0.8497 1)">13</text>
<line x1="175.3" y1="692" x2="175.3" y2="735" stroke="#2a2a2a" stroke-width="0.5"/>
<polygon points="175.3,705.3 174,700.8 176.6,700.8" fill="#2a2a2a"/>
<polygon points="175.3,709.3 176.6,713.8 174,713.8" fill="#2a2a2a"/>
<text x="0" y="0" font-size="9.1" text-anchor="middle" fill="#2a2a2a" stroke="#2a2a2a" stroke-width="0.5" transform="translate(174.5 725.2) rotate(-90) scale(1.0000 1)">2</text>
<line x1="112.6" y1="705" x2="112.6" y2="726" stroke="#2a2a2a" stroke-width="0.5"/>
<line x1="143.8" y1="705" x2="143.8" y2="726" stroke="#2a2a2a" stroke-width="0.5"/>
<line x1="161.8" y1="708.8" x2="161.8" y2="737" stroke="#2a2a2a" stroke-width="0.5"/>
<line x1="93.4" y1="708.8" x2="93.4" y2="737" stroke="#2a2a2a" stroke-width="0.5"/>
<line x1="112.6" y1="723" x2="143.8" y2="723" stroke="#2a2a2a" stroke-width="0.6"/>
<polygon points="112.6,723 117.1,721.7 117.1,724.3" fill="#2a2a2a"/>
<polygon points="143.8,723 139.3,724.3 139.3,721.7" fill="#2a2a2a"/>
<line x1="143.8" y1="723" x2="161.8" y2="723" stroke="#2a2a2a" stroke-width="0.6"/>
<polygon points="143.8,723 148.3,721.7 148.3,724.3" fill="#2a2a2a"/>
<polygon points="161.8,723 157.3,724.3 157.3,721.7" fill="#2a2a2a"/>
<text x="0.17" y="0" font-size="9.1" text-anchor="middle" fill="#2a2a2a" stroke="#2a2a2a" stroke-width="0.5" letter-spacing="0.344" transform="translate(128 720.4) scale(0.8600 1)">18</text>
<text x="0" y="0" font-size="9.1" text-anchor="middle" fill="#2a2a2a" stroke="#2a2a2a" stroke-width="0.5" transform="translate(153.6 720.4) scale(0.8470 1)">11</text>
<line x1="93.4" y1="734.8" x2="161.8" y2="734.8" stroke="#2a2a2a" stroke-width="0.6"/>
<polygon points="93.4,734.8 97.9,733.5 97.9,736.1" fill="#2a2a2a"/>
<polygon points="161.8,734.8 157.3,736.1 157.3,733.5" fill="#2a2a2a"/>
<text x="0.17" y="0" font-size="9.1" text-anchor="middle" fill="#2a2a2a" stroke="#2a2a2a" stroke-width="0.5" letter-spacing="0.344" transform="translate(128 732.2) scale(0.8600 1)">40</text>
<text x="0" y="0" font-size="9.8" text-anchor="start" fill="#2a2a2a" stroke="#2a2a2a" stroke-width="0.5" letter-spacing="0.374" transform="translate(101.8 748.6) scale(0.8600 1)">SECTION A-A</text>
<text x="0" y="0" font-size="9.1" text-anchor="start" fill="#2a2a2a" stroke="#2a2a2a" stroke-width="0.5" letter-spacing="0.929" transform="translate(142.4 638.8) scale(0.8600 1)">2x2-M3x0.5Px6 DP</text>
<line x1="141" y1="640.5" x2="224" y2="640.5" stroke="#2a2a2a" stroke-width="0.5"/>
<line x1="224" y1="640.5" x2="246.5" y2="664" stroke="#2a2a2a" stroke-width="0.5"/>
<polygon points="247.5,666 244.07,662.81 246.3,661.47" fill="#2a2a2a"/>
<text x="0" y="0" font-size="9.1" text-anchor="start" fill="#2a2a2a" stroke="#2a2a2a" stroke-width="0.5" letter-spacing="1.001" transform="translate(230.8 638.7) scale(0.8600 1)">2.5</text>
<line x1="229" y1="640.5" x2="272" y2="640.5" stroke="#2a2a2a" stroke-width="0.5"/>
<polygon points="242,640.5 246.5,639.2 246.5,641.8" fill="#2a2a2a"/>
<polygon points="249,640.5 244.5,641.8 244.5,639.2" fill="#2a2a2a"/>
<line x1="242" y1="637" x2="242" y2="652.7" stroke="#2a2a2a" stroke-width="0.5"/>
<line x1="249" y1="637" x2="249" y2="652.7" stroke="#2a2a2a" stroke-width="0.5"/>
<text x="0" y="0" font-size="9.1" text-anchor="start" fill="#2a2a2a" stroke="#2a2a2a" stroke-width="0.5" letter-spacing="0.969" transform="translate(282.7 637.5) scale(0.8600 1)">2x2-M2.6x0.45Px4 DP</text>
<line x1="281" y1="639.2" x2="378" y2="639.2" stroke="#2a2a2a" stroke-width="0.5"/>
<line x1="281" y1="639.2" x2="256" y2="652" stroke="#2a2a2a" stroke-width="0.5"/>
<text x="0" y="0" font-size="9.1" text-anchor="start" fill="#2a2a2a" stroke="#2a2a2a" stroke-width="0.5" letter-spacing="0.932" transform="translate(293.3 614.7) scale(0.8600 1)">4-M3x0.5Px4.5 DP</text>
<line x1="292" y1="616.3" x2="372" y2="616.3" stroke="#2a2a2a" stroke-width="0.5"/>
<line x1="224" y1="669.3" x2="250" y2="669.3" stroke="#2a2a2a" stroke-width="0.5"/>
<line x1="224" y1="703.7" x2="250" y2="703.7" stroke="#2a2a2a" stroke-width="0.5"/>
<line x1="227.9" y1="669.3" x2="227.9" y2="703.7" stroke="#2a2a2a" stroke-width="0.6"/>
<polygon points="227.9,669.3 229.2,673.8 226.6,673.8" fill="#2a2a2a"/>
<polygon points="227.9,703.7 226.6,699.2 229.2,699.2" fill="#2a2a2a"/>
<text x="0" y="0" font-size="9.1" text-anchor="middle" fill="#2a2a2a" stroke="#2a2a2a" stroke-width="0.5" transform="translate(229.5 686.5) rotate(-90) scale(0.8398 1)">20</text>
<rect x="242" y="652.7" width="7" height="10.6" stroke="#2a2a2a" stroke-width="0.8" fill="none"/>
<rect x="242" y="708.7" width="7" height="12" stroke="#2a2a2a" stroke-width="0.8" fill="none"/>
<line x1="241" y1="663.3" x2="241" y2="708.7" stroke="#2a2a2a" stroke-width="0.8"/>
<line x1="241" y1="663.3" x2="249" y2="663.3" stroke="#2a2a2a" stroke-width="0.6"/>
<line x1="241" y1="708.7" x2="249" y2="708.7" stroke="#2a2a2a" stroke-width="0.6"/>
<line x1="249" y1="652.7" x2="258.3" y2="652.7" stroke="#2a2a2a" stroke-width="1"/>
<line x1="249" y1="720.7" x2="258.3" y2="720.7" stroke="#2a2a2a" stroke-width="1"/>
<line x1="258.3" y1="652.7" x2="258.3" y2="720.7" stroke="#555" stroke-width="1.5"/>
<circle cx="250" cy="669.3" r="2.5" stroke="#2a2a2a" stroke-width="1.2" fill="none"/>
<circle cx="250" cy="703.7" r="2.5" stroke="#2a2a2a" stroke-width="1.2" fill="none"/>
<rect x="251.7" y="653.5" width="4.6" height="10" stroke="#666" stroke-width="0.4" fill="none" stroke-dasharray="1.5,1"/>
<rect x="251.7" y="710" width="4.6" height="10" stroke="#666" stroke-width="0.4" fill="none" stroke-dasharray="1.5,1"/>
<line x1="258.3" y1="652.6" x2="516.1" y2="652.6" stroke="#2a2a2a" stroke-width="1.4"/>
<line x1="258.3" y1="664.5" x2="516.1" y2="664.5" stroke="#2a2a2a" stroke-width="0.8"/>
<line x1="258.3" y1="680" x2="516.1" y2="680" stroke="#2a2a2a" stroke-width="1.4"/>
<line x1="258.3" y1="692.7" x2="516.1" y2="692.7" stroke="#2a2a2a" stroke-width="1.4"/>
<line x1="258.3" y1="709.4" x2="516.1" y2="709.4" stroke="#2a2a2a" stroke-width="0.8"/>
<line x1="258.3" y1="720.8" x2="516.1" y2="720.8" stroke="#2a2a2a" stroke-width="1.4"/>
<line x1="215" y1="686.5" x2="640" y2="686.5" stroke="#999" stroke-width="0.5" stroke-dasharray="9,2,1.5,2"/>
<circle cx="284.1" cy="671.3" r="6" stroke="#2a2a2a" stroke-width="0.9" fill="none"/>
<circle cx="284.1" cy="671.3" r="3.3" stroke="#2a2a2a" stroke-width="0.8" fill="none"/>
<line x1="280" y1="671.3" x2="288" y2="671.3" stroke="#2a2a2a" stroke-width="0.3"/>
<line x1="284.1" y1="667.3" x2="284.1" y2="675.3" stroke="#2a2a2a" stroke-width="0.3"/>
<circle cx="489.9" cy="670.8" r="5.6" stroke="#2a2a2a" stroke-width="0.9" fill="none"/>
<circle cx="489.9" cy="670.8" r="3.3" stroke="#2a2a2a" stroke-width="0.8" fill="none"/>
<line x1="486" y1="670.8" x2="494" y2="670.8" stroke="#2a2a2a" stroke-width="0.3"/>
<line x1="489.9" y1="666.8" x2="489.9" y2="674.8" stroke="#2a2a2a" stroke-width="0.3"/>
<circle cx="284.1" cy="702" r="6" stroke="#2a2a2a" stroke-width="0.9" fill="none"/>
<circle cx="284.1" cy="702" r="3.3" stroke="#2a2a2a" stroke-width="0.8" fill="none"/>
<line x1="280" y1="702" x2="288" y2="702" stroke="#2a2a2a" stroke-width="0.3"/>
<line x1="284.1" y1="698" x2="284.1" y2="706" stroke="#2a2a2a" stroke-width="0.3"/>
<circle cx="489.9" cy="701.5" r="5.6" stroke="#2a2a2a" stroke-width="0.9" fill="none"/>
<circle cx="489.9" cy="701.5" r="3.3" stroke="#2a2a2a" stroke-width="0.8" fill="none"/>
<line x1="486" y1="701.5" x2="494" y2="701.5" stroke="#2a2a2a" stroke-width="0.3"/>
<line x1="489.9" y1="697.5" x2="489.9" y2="705.5" stroke="#2a2a2a" stroke-width="0.3"/>
<path d="M326,650 L341,650 L323,728 L308,728 Z" stroke="#2a2a2a" stroke-width="0" fill="#ffffff"/>
<line x1="335.5" y1="650" x2="317.7" y2="728" stroke="#888" stroke-width="0.6" stroke-dasharray="6,1.5"/>
<line x1="340" y1="650" x2="322.2" y2="728" stroke="#888" stroke-width="0.6" stroke-dasharray="6,1.5"/>
<rect x="380" y="656" width="101" height="61" fill="#ffffff"/>
<rect x="393.3" y="657.5" width="74.4" height="57.9" stroke="#444" stroke-width="0.8" fill="none"/>
<rect x="390.8" y="664" width="10.6" height="45.5" stroke="#444" stroke-width="0.8" fill="none"/>
<rect x="458.6" y="664" width="11" height="45.5" stroke="#444" stroke-width="0.8" fill="none"/>
<line x1="401.4" y1="664" x2="458.6" y2="664" stroke="#2a2a2a" stroke-width="0.8"/>
<line x1="401.4" y1="709.5" x2="458.6" y2="709.5" stroke="#2a2a2a" stroke-width="0.8"/>
<line x1="421.6" y1="664" x2="421.6" y2="709.5" stroke="#2a2a2a" stroke-width="0.8"/>
<line x1="438.4" y1="664" x2="438.4" y2="709.5" stroke="#2a2a2a" stroke-width="0.8"/>
<line x1="401.4" y1="677" x2="421.6" y2="677" stroke="#2a2a2a" stroke-width="0.9"/>
<line x1="401.4" y1="696.3" x2="421.6" y2="696.3" stroke="#2a2a2a" stroke-width="0.9"/>
<line x1="438.4" y1="677" x2="458.6" y2="677" stroke="#2a2a2a" stroke-width="0.9"/>
<line x1="438.4" y1="696.3" x2="458.6" y2="696.3" stroke="#2a2a2a" stroke-width="0.9"/>
<circle cx="413.1" cy="671.4" r="2.6" stroke="#2a2a2a" stroke-width="1.3" fill="none"/>
<line x1="408.7" y1="671.4" x2="417.5" y2="671.4" stroke="#2a2a2a" stroke-width="0.4"/>
<line x1="413.1" y1="667" x2="413.1" y2="675.8" stroke="#2a2a2a" stroke-width="0.4"/>
<circle cx="430.3" cy="671.4" r="2.2" stroke="#2a2a2a" stroke-width="1.3" fill="none"/>
<line x1="426.3" y1="671.4" x2="434.3" y2="671.4" stroke="#2a2a2a" stroke-width="0.4"/>
<line x1="430.3" y1="667.4" x2="430.3" y2="675.4" stroke="#2a2a2a" stroke-width="0.4"/>
<circle cx="447.2" cy="671.4" r="2.6" stroke="#2a2a2a" stroke-width="1.3" fill="none"/>
<line x1="442.8" y1="671.4" x2="451.6" y2="671.4" stroke="#2a2a2a" stroke-width="0.4"/>
<line x1="447.2" y1="667" x2="447.2" y2="675.8" stroke="#2a2a2a" stroke-width="0.4"/>
<circle cx="413.1" cy="701.9" r="2.6" stroke="#2a2a2a" stroke-width="1.3" fill="none"/>
<line x1="408.7" y1="701.9" x2="417.5" y2="701.9" stroke="#2a2a2a" stroke-width="0.4"/>
<line x1="413.1" y1="697.5" x2="413.1" y2="706.3" stroke="#2a2a2a" stroke-width="0.4"/>
<circle cx="430.3" cy="701.9" r="2.2" stroke="#2a2a2a" stroke-width="1.3" fill="none"/>
<line x1="426.3" y1="701.9" x2="434.3" y2="701.9" stroke="#2a2a2a" stroke-width="0.4"/>
<line x1="430.3" y1="697.9" x2="430.3" y2="705.9" stroke="#2a2a2a" stroke-width="0.4"/>
<circle cx="447.2" cy="701.9" r="2.6" stroke="#2a2a2a" stroke-width="1.3" fill="none"/>
<line x1="442.8" y1="701.9" x2="451.6" y2="701.9" stroke="#2a2a2a" stroke-width="0.4"/>
<line x1="447.2" y1="697.5" x2="447.2" y2="706.3" stroke="#2a2a2a" stroke-width="0.4"/>
<line x1="372" y1="616.3" x2="411.2" y2="669.2" stroke="#2a2a2a" stroke-width="0.5"/>
<polygon points="411.2,669.2 407.46,666.38 409.54,664.82" fill="#2a2a2a"/>
<rect x="380.6" y="670.2" width="10.2" height="8.8" stroke="#2a2a2a" stroke-width="0.8" fill="none"/>
<rect x="380.6" y="694.1" width="10.2" height="9.3" stroke="#2a2a2a" stroke-width="0.8" fill="none"/>
<rect x="469.6" y="670.2" width="10.2" height="8.8" stroke="#2a2a2a" stroke-width="0.8" fill="none"/>
<rect x="469.6" y="694.1" width="10.2" height="9.3" stroke="#2a2a2a" stroke-width="0.8" fill="none"/>
<path d="M389,695.5 L385,695.5 Q382.5,695.5 382.5,698.8 Q382.5,702 385,702 L389,702" stroke="#2a2a2a" stroke-width="0.6" fill="none"/>
<line x1="380" y1="686.5" x2="482" y2="686.5" stroke="#999" stroke-width="0.5" stroke-dasharray="9,2,1.5,2"/>
<line x1="380.6" y1="615" x2="380.6" y2="670" stroke="#2a2a2a" stroke-width="0.5"/>
<line x1="480.2" y1="615" x2="480.2" y2="670" stroke="#2a2a2a" stroke-width="0.5"/>
<line x1="380.6" y1="618.2" x2="480.2" y2="618.2" stroke="#2a2a2a" stroke-width="0.6"/>
<polygon points="380.6,618.2 385.1,616.9 385.1,619.5" fill="#2a2a2a"/>
<polygon points="480.2,618.2 475.7,619.5 475.7,616.9" fill="#2a2a2a"/>
<text x="0.17" y="0" font-size="9.1" text-anchor="middle" fill="#2a2a2a" stroke="#2a2a2a" stroke-width="0.5" letter-spacing="0.344" transform="translate(429 616.5) scale(0.8600 1)">58</text>
<line x1="401.7" y1="626" x2="401.7" y2="664" stroke="#2a2a2a" stroke-width="0.5"/>
<line x1="458.7" y1="626" x2="458.7" y2="664" stroke="#2a2a2a" stroke-width="0.5"/>
<line x1="401.7" y1="629.1" x2="458.7" y2="629.1" stroke="#2a2a2a" stroke-width="0.6"/>
<polygon points="401.7,629.1 406.2,627.8 406.2,630.4" fill="#2a2a2a"/>
<polygon points="458.7,629.1 454.2,630.4 454.2,627.8" fill="#2a2a2a"/>
<text x="0.17" y="0" font-size="9.1" text-anchor="middle" fill="#2a2a2a" stroke="#2a2a2a" stroke-width="0.5" letter-spacing="0.344" transform="translate(429 627.9) scale(0.8600 1)">33</text>
<line x1="413.6" y1="637" x2="413.6" y2="668" stroke="#2a2a2a" stroke-width="0.5"/>
<line x1="447.3" y1="637" x2="447.3" y2="668" stroke="#2a2a2a" stroke-width="0.5"/>
<line x1="413.6" y1="640.5" x2="447.3" y2="640.5" stroke="#2a2a2a" stroke-width="0.6"/>
<polygon points="413.6,640.5 418.1,639.2 418.1,641.8" fill="#2a2a2a"/>
<polygon points="447.3,640.5 442.8,641.8 442.8,639.2" fill="#2a2a2a"/>
<text x="0.17" y="0" font-size="9.1" text-anchor="middle" fill="#2a2a2a" stroke="#2a2a2a" stroke-width="0.5" letter-spacing="0.344" transform="translate(429 639.3) scale(0.8600 1)">20</text>
<rect x="498.3" y="682.9" width="12.2" height="7.1" stroke="#2a2a2a" stroke-width="1" fill="none"/>
<line x1="499.5" y1="684" x2="509.5" y2="689" stroke="#2a2a2a" stroke-width="0.6"/>
<line x1="499.5" y1="689" x2="509.5" y2="684" stroke="#2a2a2a" stroke-width="0.6"/>
<rect x="505.8" y="667" width="5.6" height="8.5" stroke="#2a2a2a" stroke-width="0.8" fill="none"/>
<rect x="505.8" y="697.9" width="5.6" height="8.4" stroke="#2a2a2a" stroke-width="0.8" fill="none"/>
<line x1="511.4" y1="664.3" x2="511.4" y2="709" stroke="#2a2a2a" stroke-width="0.8"/>
<line x1="516.1" y1="652.6" x2="516.1" y2="720.8" stroke="#2a2a2a" stroke-width="1.2"/>
<text x="0" y="0" font-size="9.1" text-anchor="start" fill="#2a2a2a" stroke="#2a2a2a" stroke-width="0.5" letter-spacing="0.993" transform="translate(505.5 616.5) scale(0.8600 1)">2xn-Ø3.4THRU,Ø6.5x3 DP</text>
<line x1="503" y1="618.3" x2="620" y2="618.3" stroke="#2a2a2a" stroke-width="0.5"/>
<line x1="503" y1="618.3" x2="491.5" y2="664.5" stroke="#2a2a2a" stroke-width="0.5"/>
<polygon points="491.5,664.5 491.33,659.82 493.85,660.45" fill="#2a2a2a"/>
<line x1="516.1" y1="652.7" x2="533.8" y2="652.7" stroke="#2a2a2a" stroke-width="1.2"/>
<line x1="516.1" y1="720.6" x2="533.8" y2="720.6" stroke="#2a2a2a" stroke-width="1.2"/>
<line x1="533.8" y1="652.7" x2="533.8" y2="720.6" stroke="#2a2a2a" stroke-width="1"/>
<circle cx="524.5" cy="668.9" r="2.5" stroke="#2a2a2a" stroke-width="1.2" fill="none"/>
<circle cx="524.5" cy="703.5" r="2.5" stroke="#2a2a2a" stroke-width="1.2" fill="none"/>
<rect x="522.3" y="653.5" width="4.5" height="10" stroke="#666" stroke-width="0.4" fill="none" stroke-dasharray="1.5,1"/>
<rect x="522.3" y="709.5" width="4.5" height="10" stroke="#666" stroke-width="0.4" fill="none" stroke-dasharray="1.5,1"/>
<line x1="524.5" y1="636" x2="524.5" y2="652" stroke="#2a2a2a" stroke-width="0.5"/>
<line x1="503" y1="639.3" x2="540" y2="639.3" stroke="#2a2a2a" stroke-width="0.5"/>
<polygon points="516.1,639.3 511.6,640.6 511.6,638" fill="#2a2a2a"/>
<polygon points="524.5,639.3 529,638 529,640.6" fill="#2a2a2a"/>
<line x1="516.1" y1="636" x2="516.1" y2="652.6" stroke="#2a2a2a" stroke-width="0.5"/>
<text x="520.2" y="636.7" font-size="9.1" text-anchor="middle" fill="#2a2a2a" stroke="#2a2a2a" stroke-width="0.5">5</text>
<rect x="533.8" y="652.7" width="66.3" height="67.9" stroke="#2a2a2a" stroke-width="1" fill="none"/>
<rect x="536.6" y="667" width="42.9" height="39.3" rx="5" stroke="#2a2a2a" stroke-width="1" fill="none"/>
<rect x="536.6" y="672.7" width="11.2" height="28" stroke="#2a2a2a" stroke-width="0.9" fill="none"/>
<rect x="547.8" y="683.3" width="14" height="7.1" stroke="#2a2a2a" stroke-width="0.8" fill="none"/>
<line x1="579.5" y1="669.5" x2="600" y2="669.5" stroke="#666" stroke-width="0.5" stroke-dasharray="3,1.5"/>
<line x1="579.5" y1="704.4" x2="600" y2="704.4" stroke="#666" stroke-width="0.5" stroke-dasharray="3,1.5"/>
<line x1="600.1" y1="652.7" x2="623" y2="652.7" stroke="#2a2a2a" stroke-width="0.5"/>
<line x1="600.1" y1="720.6" x2="623" y2="720.6" stroke="#2a2a2a" stroke-width="0.5"/>
<line x1="620" y1="652.7" x2="620" y2="720.6" stroke="#2a2a2a" stroke-width="0.6"/>
<polygon points="620,652.7 621.3,657.2 618.7,657.2" fill="#2a2a2a"/>
<polygon points="620,720.6 618.7,716.1 621.3,716.1" fill="#2a2a2a"/>
<text x="0.34" y="0" font-size="9.1" text-anchor="middle" fill="#2a2a2a" stroke="#2a2a2a" stroke-width="0.5" letter-spacing="0.686" transform="translate(618.6 689.6) rotate(-90) scale(0.8600 1)">39.6</text>
<line x1="242" y1="721" x2="242" y2="767" stroke="#2a2a2a" stroke-width="0.5"/>
<line x1="258.3" y1="721" x2="258.3" y2="755" stroke="#2a2a2a" stroke-width="0.5"/>
<line x1="600.1" y1="720.6" x2="600.1" y2="767" stroke="#2a2a2a" stroke-width="0.5"/>
<text x="0" y="0" font-size="9.1" text-anchor="start" fill="#2a2a2a" stroke="#2a2a2a" stroke-width="0.5" letter-spacing="0.869" transform="translate(321.7 736.4) scale(0.8600 1)">2-M2.6x0.45Px4.5 DP</text>
<line x1="320" y1="738.2" x2="413" y2="738.2" stroke="#2a2a2a" stroke-width="0.5"/>
<line x1="413" y1="738.2" x2="428" y2="704.5" stroke="#2a2a2a" stroke-width="0.5"/>
<polygon points="429,703 428.54,707.66 426.12,706.7" fill="#2a2a2a"/>
<line x1="421.6" y1="709.5" x2="421.6" y2="741" stroke="#2a2a2a" stroke-width="0.5"/>
<line x1="438.4" y1="709.5" x2="438.4" y2="741" stroke="#2a2a2a" stroke-width="0.5"/>
<line x1="410" y1="738" x2="444" y2="738" stroke="#2a2a2a" stroke-width="0.5"/>
<polygon points="421.6,738 417.1,739.3 417.1,736.7" fill="#2a2a2a"/>
<polygon points="438.4,738 442.9,736.7 442.9,739.3" fill="#2a2a2a"/>
<text x="0" y="0" font-size="9.1" text-anchor="start" fill="#2a2a2a" stroke="#2a2a2a" stroke-width="0.5" letter-spacing="0.750" transform="translate(441 735.5) scale(0.8600 1)">10x1.2 DP</text>
<line x1="440" y1="737.8" x2="484" y2="737.8" stroke="#2a2a2a" stroke-width="0.5"/>
<line x1="505.8" y1="703" x2="505.8" y2="741" stroke="#2a2a2a" stroke-width="0.5"/>
<line x1="516.1" y1="721" x2="516.1" y2="755" stroke="#2a2a2a" stroke-width="0.5"/>
<line x1="496" y1="738" x2="522" y2="738" stroke="#2a2a2a" stroke-width="0.5"/>
<polygon points="505.8,738 501.3,739.3 501.3,736.7" fill="#2a2a2a"/>
<polygon points="516.1,738 520.6,736.7 520.6,739.3" fill="#2a2a2a"/>
<text x="511.9" y="735.5" font-size="9.1" text-anchor="middle" fill="#2a2a2a" stroke="#2a2a2a" stroke-width="0.5">6</text>
<line x1="506" y1="753" x2="540" y2="753" stroke="#2a2a2a" stroke-width="0.5"/>
<polygon points="516.1,753 511.6,754.3 511.6,751.7" fill="#2a2a2a"/>
<polygon points="524.5,753 529,751.7 529,754.3" fill="#2a2a2a"/>
<line x1="524.5" y1="705" x2="524.5" y2="755" stroke="#2a2a2a" stroke-width="0.5"/>
<text x="520.7" y="751.5" font-size="9.1" text-anchor="middle" fill="#2a2a2a" stroke="#2a2a2a" stroke-width="0.5">5</text>
<line x1="228" y1="753" x2="242" y2="753" stroke="#2a2a2a" stroke-width="0.5"/>
<line x1="242" y1="753" x2="258.3" y2="753" stroke="#2a2a2a" stroke-width="0.6"/>
<polygon points="242,753 246.5,751.7 246.5,754.3" fill="#2a2a2a"/>
<polygon points="258.3,753 253.8,754.3 253.8,751.7" fill="#2a2a2a"/>
<text x="253.7" y="751" font-size="9.1" text-anchor="middle" fill="#2a2a2a" stroke="#2a2a2a" stroke-width="0.5">5</text>
<line x1="258.3" y1="753" x2="270" y2="753" stroke="#2a2a2a" stroke-width="0.5"/>
<line x1="258.3" y1="753" x2="516.1" y2="753" stroke="#2a2a2a" stroke-width="0.6"/>
<polygon points="258.3,753 262.8,751.7 262.8,754.3" fill="#2a2a2a"/>
<polygon points="516.1,753 511.6,754.3 511.6,751.7" fill="#2a2a2a"/>
<text x="0.17" y="0" font-size="9.1" text-anchor="middle" fill="#2a2a2a" stroke="#2a2a2a" stroke-width="0.5" letter-spacing="0.344" transform="translate(386.3 750.8) scale(0.8600 1)">L2</text>
<line x1="242" y1="764.5" x2="600.1" y2="764.5" stroke="#2a2a2a" stroke-width="0.6"/>
<polygon points="242,764.5 246.5,763.2 246.5,765.8" fill="#2a2a2a"/>
<polygon points="600.1,764.5 595.6,765.8 595.6,763.2" fill="#2a2a2a"/>
<text x="0.17" y="0" font-size="9.1" text-anchor="middle" fill="#2a2a2a" stroke="#2a2a2a" stroke-width="0.5" letter-spacing="0.344" transform="translate(420.7 762.1) scale(0.8600 1)">L1</text>
<rect x="101.9" y="826.3" width="68.8" height="51.1" stroke="#2a2a2a" stroke-width="0.9" fill="none"/>
<line x1="101.9" y1="877.4" x2="170.7" y2="877.4" stroke="#2a2a2a" stroke-width="1.3"/>
<circle cx="136.3" cy="855" r="24" stroke="#777" stroke-width="0.5" fill="none" stroke-dasharray="3,1.5"/>
<circle cx="136.3" cy="855" r="17.3" stroke="#2a2a2a" stroke-width="0.9" fill="none"/>
<path d="M124.4,847.63 L126.61,849.84 L131.14,845.31 L128.93,843.1 A14,14 0 0 1 143.67,843.1 L141.46,845.31 L145.99,849.84 L148.2,847.63 A14,14 0 0 1 139.5,868.63 L139.5,865.5 L133.1,865.5 L133.1,868.63 A14,14 0 0 1 124.4,847.63 Z" stroke="#2a2a2a" stroke-width="0.9" fill="none"/>
<circle cx="136.3" cy="855" r="3" stroke="#2a2a2a" stroke-width="0.8" fill="none"/>
<circle cx="114.7" cy="842.7" r="2.7" stroke="#2a2a2a" stroke-width="1.2" fill="none"/>
<circle cx="114.7" cy="867.7" r="2.7" stroke="#2a2a2a" stroke-width="1.2" fill="none"/>
<circle cx="157.7" cy="842.7" r="2.7" stroke="#2a2a2a" stroke-width="1.2" fill="none"/>
<circle cx="157.7" cy="867.7" r="2.7" stroke="#2a2a2a" stroke-width="1.2" fill="none"/>
<circle cx="107.3" cy="861" r="3.2" stroke="#2a2a2a" stroke-width="0.9" fill="none"/>
<line x1="103.3" y1="861" x2="111.3" y2="861" stroke="#2a2a2a" stroke-width="0.3"/>
<line x1="107.3" y1="857" x2="107.3" y2="865" stroke="#2a2a2a" stroke-width="0.3"/>
<circle cx="107.3" cy="871.7" r="3.2" stroke="#2a2a2a" stroke-width="0.9" fill="none"/>
<line x1="103.3" y1="871.7" x2="111.3" y2="871.7" stroke="#2a2a2a" stroke-width="0.3"/>
<line x1="107.3" y1="867.7" x2="107.3" y2="875.7" stroke="#2a2a2a" stroke-width="0.3"/>
<circle cx="164.3" cy="861" r="3.2" stroke="#2a2a2a" stroke-width="0.9" fill="none"/>
<line x1="160.3" y1="861" x2="168.3" y2="861" stroke="#2a2a2a" stroke-width="0.3"/>
<line x1="164.3" y1="857" x2="164.3" y2="865" stroke="#2a2a2a" stroke-width="0.3"/>
<circle cx="164.3" cy="871.7" r="3.2" stroke="#2a2a2a" stroke-width="0.9" fill="none"/>
<line x1="160.3" y1="871.7" x2="168.3" y2="871.7" stroke="#2a2a2a" stroke-width="0.3"/>
<line x1="164.3" y1="867.7" x2="164.3" y2="875.7" stroke="#2a2a2a" stroke-width="0.3"/>
<line x1="136.3" y1="818" x2="136.3" y2="884" stroke="#888" stroke-width="0.4" stroke-dasharray="4,1.5,1,1.5"/>
<line x1="96" y1="855" x2="192" y2="855" stroke="#555" stroke-width="0.5"/>
<line x1="74" y1="826.3" x2="101.9" y2="826.3" stroke="#2a2a2a" stroke-width="0.5"/>
<line x1="74" y1="877.4" x2="101.9" y2="877.4" stroke="#2a2a2a" stroke-width="0.5"/>
<line x1="78.2" y1="826.3" x2="78.2" y2="877.4" stroke="#2a2a2a" stroke-width="0.6"/>
<polygon points="78.2,826.3 79.5,830.8 76.9,830.8" fill="#2a2a2a"/>
<polygon points="78.2,877.4 76.9,872.9 79.5,872.9" fill="#2a2a2a"/>
<text x="0" y="0" font-size="9.1" text-anchor="middle" fill="#2a2a2a" stroke="#2a2a2a" stroke-width="0.5" transform="translate(76 852.7) rotate(-90) scale(0.8398 1)">30</text>
<line x1="89.3" y1="866" x2="89.3" y2="886" stroke="#2a2a2a" stroke-width="0.5"/>
<polygon points="89.3,877.4 90.6,881.9 88,881.9" fill="#2a2a2a"/>
<text x="0.47" y="0" font-size="9.1" text-anchor="middle" fill="#2a2a2a" stroke="#2a2a2a" stroke-width="0.5" letter-spacing="0.943" transform="translate(88 857.7) rotate(-90) scale(0.8600 1)">0.5</text>
<text x="0" y="0" font-size="9.1" text-anchor="start" fill="#2a2a2a" stroke="#2a2a2a" stroke-width="0.5" letter-spacing="0.952" transform="translate(170.2 804.5) scale(0.8600 1)">4-M3x0.5Px6 DP</text>
<text x="0" y="0" font-size="9.1" text-anchor="start" fill="#2a2a2a" stroke="#2a2a2a" stroke-width="0.5" letter-spacing="0.767" transform="translate(170.2 816.2) scale(0.8600 1)">PCD 29</text>
<line x1="169" y1="806.3" x2="242" y2="806.3" stroke="#2a2a2a" stroke-width="0.5"/>
<line x1="169" y1="806.3" x2="159" y2="839.5" stroke="#2a2a2a" stroke-width="0.5"/>
<polygon points="159,839.5 159.05,834.82 161.54,835.56" fill="#2a2a2a"/>
<line x1="157.7" y1="842.7" x2="184" y2="829.5" stroke="#2a2a2a" stroke-width="0.5"/>
<line x1="164.3" y1="871.7" x2="185" y2="880.5" stroke="#2a2a2a" stroke-width="0.5"/>
<path d="M183.7,829.7 Q192.5,855 184.3,880.3" stroke="#2a2a2a" stroke-width="0.5" fill="none"/>
<polygon points="183.7,829.7 186.41,833.52 183.96,834.38" fill="#2a2a2a"/>
<polygon points="190.2,855 188.46,850.65 191.05,850.39" fill="#2a2a2a"/>
<polygon points="190.2,855 191.05,859.61 188.46,859.35" fill="#2a2a2a"/>
<polygon points="184.3,880.3 184.56,875.62 187.01,876.48" fill="#2a2a2a"/>
<text x="0.34" y="0" font-size="9.1" text-anchor="middle" fill="#2a2a2a" stroke="#2a2a2a" stroke-width="0.5" letter-spacing="0.678" transform="translate(195.5 841.3) rotate(80) scale(0.8600 1)">30°</text>
<text x="0.34" y="0" font-size="9.1" text-anchor="middle" fill="#2a2a2a" stroke="#2a2a2a" stroke-width="0.5" letter-spacing="0.678" transform="translate(186.5 867.4) rotate(-70) scale(0.8600 1)">30°</text>
<text x="0.12" y="0" font-size="9.8" text-anchor="middle" fill="#2a2a2a" stroke="#2a2a2a" stroke-width="0.5" letter-spacing="0.232" transform="translate(136.8 900.2) scale(0.8600 1)">VIEW B</text>
<rect x="249.4" y="830.4" width="17.3" height="46.9" stroke="#2a2a2a" stroke-width="0.9" fill="none"/>
<line x1="256.3" y1="830.4" x2="256.3" y2="877.3" stroke="#888" stroke-width="1.4"/>
<line x1="225" y1="854.7" x2="256.3" y2="854.7" stroke="#2a2a2a" stroke-width="0.5"/>
<rect x="249.4" y="854.7" width="6.9" height="11.3" stroke="#2a2a2a" stroke-width="0.7" fill="none"/>
<rect x="249.4" y="866" width="6.9" height="11.3" stroke="#2a2a2a" stroke-width="0.7" fill="none"/>
<circle cx="262.3" cy="854.7" r="2.3" stroke="#2a2a2a" stroke-width="1.1" fill="none"/>
<rect x="257.5" y="831.5" width="5" height="13" stroke="#666" stroke-width="0.4" fill="none" stroke-dasharray="1.5,1"/>
<line x1="249.4" y1="814" x2="249.4" y2="830" stroke="#2a2a2a" stroke-width="0.5"/>
<line x1="266.7" y1="814" x2="266.7" y2="830" stroke="#2a2a2a" stroke-width="0.5"/>
<line x1="249.4" y1="816.7" x2="266.7" y2="816.7" stroke="#2a2a2a" stroke-width="0.6"/>
<polygon points="249.4,816.7 253.9,815.4 253.9,818" fill="#2a2a2a"/>
<polygon points="266.7,816.7 262.2,818 262.2,815.4" fill="#2a2a2a"/>
<text x="0.17" y="0" font-size="9.1" text-anchor="middle" fill="#2a2a2a" stroke="#2a2a2a" stroke-width="0.5" letter-spacing="0.344" transform="translate(257.7 814) scale(0.8600 1)">10</text>
<line x1="209" y1="830.4" x2="249.4" y2="830.4" stroke="#2a2a2a" stroke-width="0.5"/>
<line x1="209" y1="877.3" x2="249.4" y2="877.3" stroke="#2a2a2a" stroke-width="0.5"/>
<line x1="212.3" y1="830.4" x2="212.3" y2="877.3" stroke="#2a2a2a" stroke-width="0.6"/>
<polygon points="212.3,830.4 213.6,834.9 211,834.9" fill="#2a2a2a"/>
<polygon points="212.3,877.3 211,872.8 213.6,872.8" fill="#2a2a2a"/>
<text x="0.28" y="0" font-size="9.1" text-anchor="middle" fill="#2a2a2a" stroke="#2a2a2a" stroke-width="0.5" letter-spacing="0.570" transform="translate(211 854.4) rotate(-90) scale(0.8600 1)">27.5</text>
<line x1="225.4" y1="854.7" x2="225.4" y2="877.3" stroke="#2a2a2a" stroke-width="0.6"/>
<polygon points="225.4,854.7 226.7,859.2 224.1,859.2" fill="#2a2a2a"/>
<polygon points="225.4,877.3 224.1,872.8 226.7,872.8" fill="#2a2a2a"/>
<text x="0.27" y="0" font-size="9.1" text-anchor="middle" fill="#2a2a2a" stroke="#2a2a2a" stroke-width="0.5" letter-spacing="0.531" transform="translate(223 865) rotate(-90) scale(0.8600 1)">13.5</text>
<line x1="237.4" y1="863" x2="237.4" y2="904" stroke="#2a2a2a" stroke-width="0.5"/>
<polygon points="237.4,877.3 238.7,881.8 236.1,881.8" fill="#2a2a2a"/>
<text x="0.33" y="0" font-size="9.1" text-anchor="middle" fill="#2a2a2a" stroke="#2a2a2a" stroke-width="0.5" letter-spacing="0.652" transform="translate(235 896.7) rotate(-90) scale(0.8600 1)">0.5</text>
<line x1="266.7" y1="849.1" x2="390.3" y2="849.1" stroke="#2a2a2a" stroke-width="0.7"/>
<line x1="266.7" y1="850.6" x2="390.3" y2="850.6" stroke="#2a2a2a" stroke-width="0.7"/>
<line x1="476.7" y1="847.7" x2="506.6" y2="847.7" stroke="#2a2a2a" stroke-width="0.7"/>
<line x1="476.7" y1="849.9" x2="506.6" y2="849.9" stroke="#2a2a2a" stroke-width="0.7"/>
<line x1="266.7" y1="854.4" x2="524.7" y2="854.4" stroke="#2a2a2a" stroke-width="1.3"/>
<line x1="266.7" y1="868.5" x2="524.7" y2="868.5" stroke="#2a2a2a" stroke-width="0.7"/>
<line x1="266.7" y1="869.7" x2="524.7" y2="869.7" stroke="#777" stroke-width="0.5"/>
<line x1="249.4" y1="877.3" x2="524.7" y2="877.3" stroke="#2a2a2a" stroke-width="1"/>
<line x1="266.7" y1="858.4" x2="524.7" y2="858.4" stroke="#aaa" stroke-width="0.4" stroke-dasharray="2.5,1.5"/>
<polyline points="285.3,869.7 285.3,872.5 289.3,872.5 289.3,877.3" stroke="#666" stroke-width="0.5" fill="none"/>
<polyline points="299.3,869.7 299.3,872.5 295.3,872.5 295.3,877.3" stroke="#666" stroke-width="0.5" fill="none"/>
<line x1="292.3" y1="866" x2="292.3" y2="880" stroke="#999" stroke-width="0.3"/>
<polyline points="388.5,869.7 388.5,872.5 392.5,872.5 392.5,877.3" stroke="#666" stroke-width="0.5" fill="none"/>
<polyline points="402.5,869.7 402.5,872.5 398.5,872.5 398.5,877.3" stroke="#666" stroke-width="0.5" fill="none"/>
<line x1="395.5" y1="866" x2="395.5" y2="880" stroke="#999" stroke-width="0.3"/>
<polyline points="491,869.7 491,872.5 495,872.5 495,877.3" stroke="#666" stroke-width="0.5" fill="none"/>
<polyline points="505,869.7 505,872.5 501,872.5 501,877.3" stroke="#666" stroke-width="0.5" fill="none"/>
<line x1="498" y1="866" x2="498" y2="880" stroke="#999" stroke-width="0.3"/>
<path d="M328,843 L339,843 L334,882 L323,882 Z" stroke="#2a2a2a" stroke-width="0" fill="#ffffff"/>
<line x1="337" y1="843" x2="330.5" y2="882" stroke="#999" stroke-width="0.6"/>
<line x1="340.5" y1="843" x2="334" y2="882" stroke="#999" stroke-width="0.6"/>
<path d="M400,844.5 L394,844.5 Q390.3,844.5 390.3,849.3 Q390.3,854.1 394,854.1 L400,854.1" stroke="#2a2a2a" stroke-width="0.9" fill="none"/>
<path d="M400,854.1 L400,843.9 L429.8,843.9 L429.8,845.6 L446.9,845.6 L446.9,843.9 L476.7,843.9 L476.7,854.1" stroke="#2a2a2a" stroke-width="1" fill="none"/>
<line x1="401.6" y1="843.9" x2="401.6" y2="854.1" stroke="#2a2a2a" stroke-width="0.6"/>
<line x1="410.2" y1="843.9" x2="410.2" y2="854.1" stroke="#2a2a2a" stroke-width="0.6"/>
<line x1="467.1" y1="843.9" x2="467.1" y2="854.1" stroke="#2a2a2a" stroke-width="0.6"/>
<line x1="474.6" y1="843.9" x2="474.6" y2="854.1" stroke="#2a2a2a" stroke-width="0.6"/>
<path d="M418.3,845 L418.3,852 M422.7,845 L422.7,852" stroke="#666" stroke-width="0.4" fill="none"/>
<line x1="417.5" y1="852" x2="423.5" y2="852" stroke="#666" stroke-width="0.4"/>
<line x1="420.5" y1="841" x2="420.5" y2="856" stroke="#999" stroke-width="0.3"/>
<path d="M435.5,845 L435.5,852 M439.9,845 L439.9,852" stroke="#666" stroke-width="0.4" fill="none"/>
<line x1="434.7" y1="852" x2="440.7" y2="852" stroke="#666" stroke-width="0.4"/>
<line x1="437.7" y1="841" x2="437.7" y2="856" stroke="#999" stroke-width="0.3"/>
<path d="M452.3,845 L452.3,852 M456.7,845 L456.7,852" stroke="#666" stroke-width="0.4" fill="none"/>
<line x1="451.5" y1="852" x2="457.5" y2="852" stroke="#666" stroke-width="0.4"/>
<line x1="454.5" y1="841" x2="454.5" y2="856" stroke="#999" stroke-width="0.3"/>
<rect x="514" y="842.4" width="5.4" height="11.7" stroke="#2a2a2a" stroke-width="0.8" fill="none"/>
<line x1="506.6" y1="847.7" x2="514" y2="847.7" stroke="#2a2a2a" stroke-width="0.6"/>
<line x1="412.3" y1="828.5" x2="412.3" y2="885" stroke="#2a2a2a" stroke-width="0.5" stroke-dasharray="4,1.5,1,1.5"/>
<line x1="412.3" y1="828.5" x2="427.7" y2="828.5" stroke="#2a2a2a" stroke-width="0.5"/>
<polygon points="427.7,828.5 423.2,829.8 423.2,827.2" fill="#2a2a2a"/>
<line x1="412.3" y1="887.6" x2="427.7" y2="887.6" stroke="#2a2a2a" stroke-width="0.5"/>
<polygon points="427.7,887.6 423.2,888.9 423.2,886.3" fill="#2a2a2a"/>
<text x="0" y="0" font-size="9.1" text-anchor="start" fill="#2a2a2a" stroke="#2a2a2a" stroke-width="0.5" transform="translate(432 831.7) scale(0.9720 1)">A</text>
<text x="0" y="0" font-size="9.1" text-anchor="start" fill="#2a2a2a" stroke="#2a2a2a" stroke-width="0.5" transform="translate(432 891) scale(0.9720 1)">A</text>
<line x1="395.5" y1="877" x2="395.5" y2="903" stroke="#2a2a2a" stroke-width="0.5"/>
<line x1="497.6" y1="877" x2="497.6" y2="917" stroke="#2a2a2a" stroke-width="0.5"/>
<line x1="292.3" y1="877" x2="292.3" y2="917" stroke="#2a2a2a" stroke-width="0.5"/>
<line x1="395.5" y1="900.6" x2="497.6" y2="900.6" stroke="#2a2a2a" stroke-width="0.6"/>
<polygon points="395.5,900.6 400,899.3 400,901.9" fill="#2a2a2a"/>
<polygon points="497.6,900.6 493.1,901.9 493.1,899.3" fill="#2a2a2a"/>
<text x="0.17" y="0" font-size="9.1" text-anchor="middle" fill="#2a2a2a" stroke="#2a2a2a" stroke-width="0.5" letter-spacing="0.344" transform="translate(444.6 898.8) scale(0.8600 1)">60</text>
<line x1="292.3" y1="914.8" x2="497.6" y2="914.8" stroke="#2a2a2a" stroke-width="0.6"/>
<polygon points="292.3,914.8 296.8,913.5 296.8,916.1" fill="#2a2a2a"/>
<polygon points="497.6,914.8 493.1,916.1 493.1,913.5" fill="#2a2a2a"/>
<text x="0.65" y="0" font-size="9.1" text-anchor="middle" fill="#2a2a2a" stroke="#2a2a2a" stroke-width="0.5" letter-spacing="1.306" transform="translate(388.6 912.6) scale(0.8600 1)">(n-1)x60</text>
<line x1="524.6" y1="877" x2="524.6" y2="901" stroke="#2a2a2a" stroke-width="0.5"/>
<line x1="497.6" y1="900.6" x2="524.6" y2="900.6" stroke="#2a2a2a" stroke-width="0.6"/>
<polygon points="497.6,900.6 502.1,899.3 502.1,901.9" fill="#2a2a2a"/>
<polygon points="524.6,900.6 520.1,901.9 520.1,899.3" fill="#2a2a2a"/>
<text x="510.5" y="898.9" font-size="9.1" text-anchor="middle" fill="#2a2a2a" stroke="#2a2a2a" stroke-width="0.5">G</text>
<path d="M524.5,877.3 L524.5,829.7 L541.4,829.7 L541.4,826 L608.6,826 L608.6,877.3 Z" stroke="#2a2a2a" stroke-width="1" fill="none"/>
<path d="M541.4,877.3 L541.4,843.6 Q541.4,841.4 543.6,841.4 L585.4,841.4 Q587.6,841.4 587.6,843.6 L587.6,877.3" stroke="#2a2a2a" stroke-width="0.9" fill="none"/>
<line x1="555.3" y1="826" x2="555.3" y2="859" stroke="#2a2a2a" stroke-width="0.6"/>
<line x1="555.3" y1="859" x2="587.6" y2="859" stroke="#2a2a2a" stroke-width="0.7"/>
<rect x="555.3" y="852.4" width="14.3" height="6.6" stroke="#2a2a2a" stroke-width="0.7" fill="none"/>
<line x1="569.6" y1="815" x2="569.6" y2="852.4" stroke="#2a2a2a" stroke-width="0.5"/>
<rect x="541.4" y="856.8" width="6.6" height="8.8" stroke="#2a2a2a" stroke-width="0.7" fill="none"/>
<rect x="541.4" y="867" width="6.6" height="10.3" stroke="#2a2a2a" stroke-width="0.7" fill="none"/>
<line x1="587.6" y1="838.4" x2="608.6" y2="838.4" stroke="#666" stroke-width="0.5" stroke-dasharray="3,1.5"/>
<line x1="548" y1="872" x2="608.6" y2="872" stroke="#666" stroke-width="0.5" stroke-dasharray="3,1.5"/>
<line x1="587.6" y1="826" x2="587.6" y2="838.5" stroke="#666" stroke-width="0.5" stroke-dasharray="3,1.5"/>
<line x1="500" y1="854.9" x2="620" y2="854.9" stroke="#888" stroke-width="0.4" stroke-dasharray="9,2,1.5,2"/>
<circle cx="532.6" cy="854.9" r="2.5" stroke="#2a2a2a" stroke-width="1.2" fill="none"/>
<rect x="530" y="831" width="5.5" height="13" stroke="#666" stroke-width="0.4" fill="none" stroke-dasharray="1.5,1"/>
<line x1="532.6" y1="810" x2="532.6" y2="850" stroke="#999" stroke-width="0.3" stroke-dasharray="3,1.2"/>
<rect x="518.7" y="842.1" width="5.8" height="11.8" stroke="#2a2a2a" stroke-width="0.8" fill="none"/>
<line x1="524.6" y1="781" x2="524.6" y2="830" stroke="#2a2a2a" stroke-width="0.5"/>
<line x1="608.8" y1="781" x2="608.8" y2="826" stroke="#2a2a2a" stroke-width="0.5"/>
<line x1="524.6" y1="784.1" x2="608.8" y2="784.1" stroke="#2a2a2a" stroke-width="0.6"/>
<polygon points="524.6,784.1 529.1,782.8 529.1,785.4" fill="#2a2a2a"/>
<polygon points="608.8,784.1 604.3,785.4 604.3,782.8" fill="#2a2a2a"/>
<text x="0.17" y="0" font-size="9.1" text-anchor="middle" fill="#2a2a2a" stroke="#2a2a2a" stroke-width="0.5" letter-spacing="0.344" transform="translate(565.7 782.3) scale(0.8600 1)">49</text>
<line x1="544.3" y1="792" x2="544.3" y2="826" stroke="#2a2a2a" stroke-width="0.5"/>
<line x1="587.7" y1="792" x2="587.7" y2="826" stroke="#2a2a2a" stroke-width="0.5"/>
<line x1="524.6" y1="795.8" x2="544.3" y2="795.8" stroke="#2a2a2a" stroke-width="0.6"/>
<polygon points="524.6,795.8 529.1,794.5 529.1,797.1" fill="#2a2a2a"/>
<polygon points="544.3,795.8 539.8,797.1 539.8,794.5" fill="#2a2a2a"/>
<line x1="544.3" y1="795.8" x2="587.7" y2="795.8" stroke="#2a2a2a" stroke-width="0.6"/>
<polygon points="544.3,795.8 548.8,794.5 548.8,797.1" fill="#2a2a2a"/>
<polygon points="587.7,795.8 583.2,797.1 583.2,794.5" fill="#2a2a2a"/>
<text x="0.17" y="0" font-size="9.1" text-anchor="middle" fill="#2a2a2a" stroke="#2a2a2a" stroke-width="0.5" letter-spacing="0.344" transform="translate(533.4 794) scale(0.8600 1)">12</text>
<text x="0.17" y="0" font-size="9.1" text-anchor="middle" fill="#2a2a2a" stroke="#2a2a2a" stroke-width="0.5" letter-spacing="0.344" transform="translate(565.7 794) scale(0.8600 1)">25</text>
<line x1="569.2" y1="803" x2="569.2" y2="826" stroke="#2a2a2a" stroke-width="0.5"/>
<line x1="544.3" y1="806.7" x2="569.2" y2="806.7" stroke="#2a2a2a" stroke-width="0.6"/>
<polygon points="544.3,806.7 548.8,805.4 548.8,808" fill="#2a2a2a"/>
<polygon points="569.2,806.7 564.7,808 564.7,805.4" fill="#2a2a2a"/>
<text x="0.15" y="0" font-size="9.1" text-anchor="middle" fill="#2a2a2a" stroke="#2a2a2a" stroke-width="0.5" letter-spacing="0.298" transform="translate(556.9 805.2) scale(0.8600 1)">14.5</text>
<line x1="555.1" y1="815" x2="555.1" y2="826" stroke="#2a2a2a" stroke-width="0.5"/>
<line x1="545" y1="817.5" x2="580" y2="817.5" stroke="#2a2a2a" stroke-width="0.5"/>
<polygon points="555.1,817.5 550.6,818.8 550.6,816.2" fill="#2a2a2a"/>
<polygon points="569.2,817.5 573.7,816.2 573.7,818.8" fill="#2a2a2a"/>
<text x="562.7" y="816.3" font-size="9.1" text-anchor="middle" fill="#2a2a2a" stroke="#2a2a2a" stroke-width="0.5">8</text>
<line x1="608.6" y1="838.4" x2="644" y2="838.4" stroke="#2a2a2a" stroke-width="0.5"/>
<line x1="608.6" y1="872" x2="644" y2="872" stroke="#2a2a2a" stroke-width="0.5"/>
<line x1="643.2" y1="838.4" x2="643.2" y2="872" stroke="#2a2a2a" stroke-width="0.6"/>
<polygon points="643.2,838.4 644.5,842.9 641.9,842.9" fill="#2a2a2a"/>
<polygon points="643.2,872 641.9,867.5 644.5,867.5" fill="#2a2a2a"/>
<text x="0.35" y="0" font-size="9.1" text-anchor="middle" fill="#2a2a2a" stroke="#2a2a2a" stroke-width="0.5" letter-spacing="0.703" transform="translate(639.2 862.8) rotate(-90) scale(0.8600 1)">Ø20</text>
<text x="0.1" y="0" font-size="6.3" text-anchor="middle" fill="#2a2a2a" stroke="#2a2a2a" stroke-width="0.5" letter-spacing="0.201" transform="translate(634.4 846) rotate(-90) scale(0.8600 1)">+0.03</text>
<text x="0" y="0" font-size="6.3" text-anchor="middle" fill="#2a2a2a" stroke="#2a2a2a" stroke-width="0.5" transform="translate(641.6 850.8) rotate(-90) scale(0.7796 1)">+0</text>
<line x1="587.6" y1="852.4" x2="625" y2="852.4" stroke="#2a2a2a" stroke-width="0.4"/>
<line x1="587.6" y1="859.2" x2="625" y2="859.2" stroke="#2a2a2a" stroke-width="0.4"/>
<line x1="623.2" y1="838" x2="623.2" y2="896.4" stroke="#2a2a2a" stroke-width="0.5"/>
<polygon points="623.2,852.4 621.9,847.9 624.5,847.9" fill="#2a2a2a"/>
<polygon points="623.2,859.2 624.5,863.7 621.9,863.7" fill="#2a2a2a"/>
<text x="0.55" y="0" font-size="9.1" text-anchor="middle" fill="#2a2a2a" stroke="#2a2a2a" stroke-width="0.5" letter-spacing="1.107" transform="translate(621.6 885) rotate(-90) scale(0.8600 1)">Ø4h7</text>
<text x="0" y="0" font-size="9.8" text-anchor="start" fill="#2a2a2a" stroke="#2a2a2a" stroke-width="0.5" letter-spacing="0.232" transform="translate(662.5 856.5) scale(0.8600 1)">VIEW B</text>
<line x1="652.8" y1="859.5" x2="672" y2="859.5" stroke="#2a2a2a" stroke-width="0.6"/>
<polygon points="652.8,859.5 658.8,857.9 658.8,861.1" fill="#2a2a2a"/>
</svg></body></html>
